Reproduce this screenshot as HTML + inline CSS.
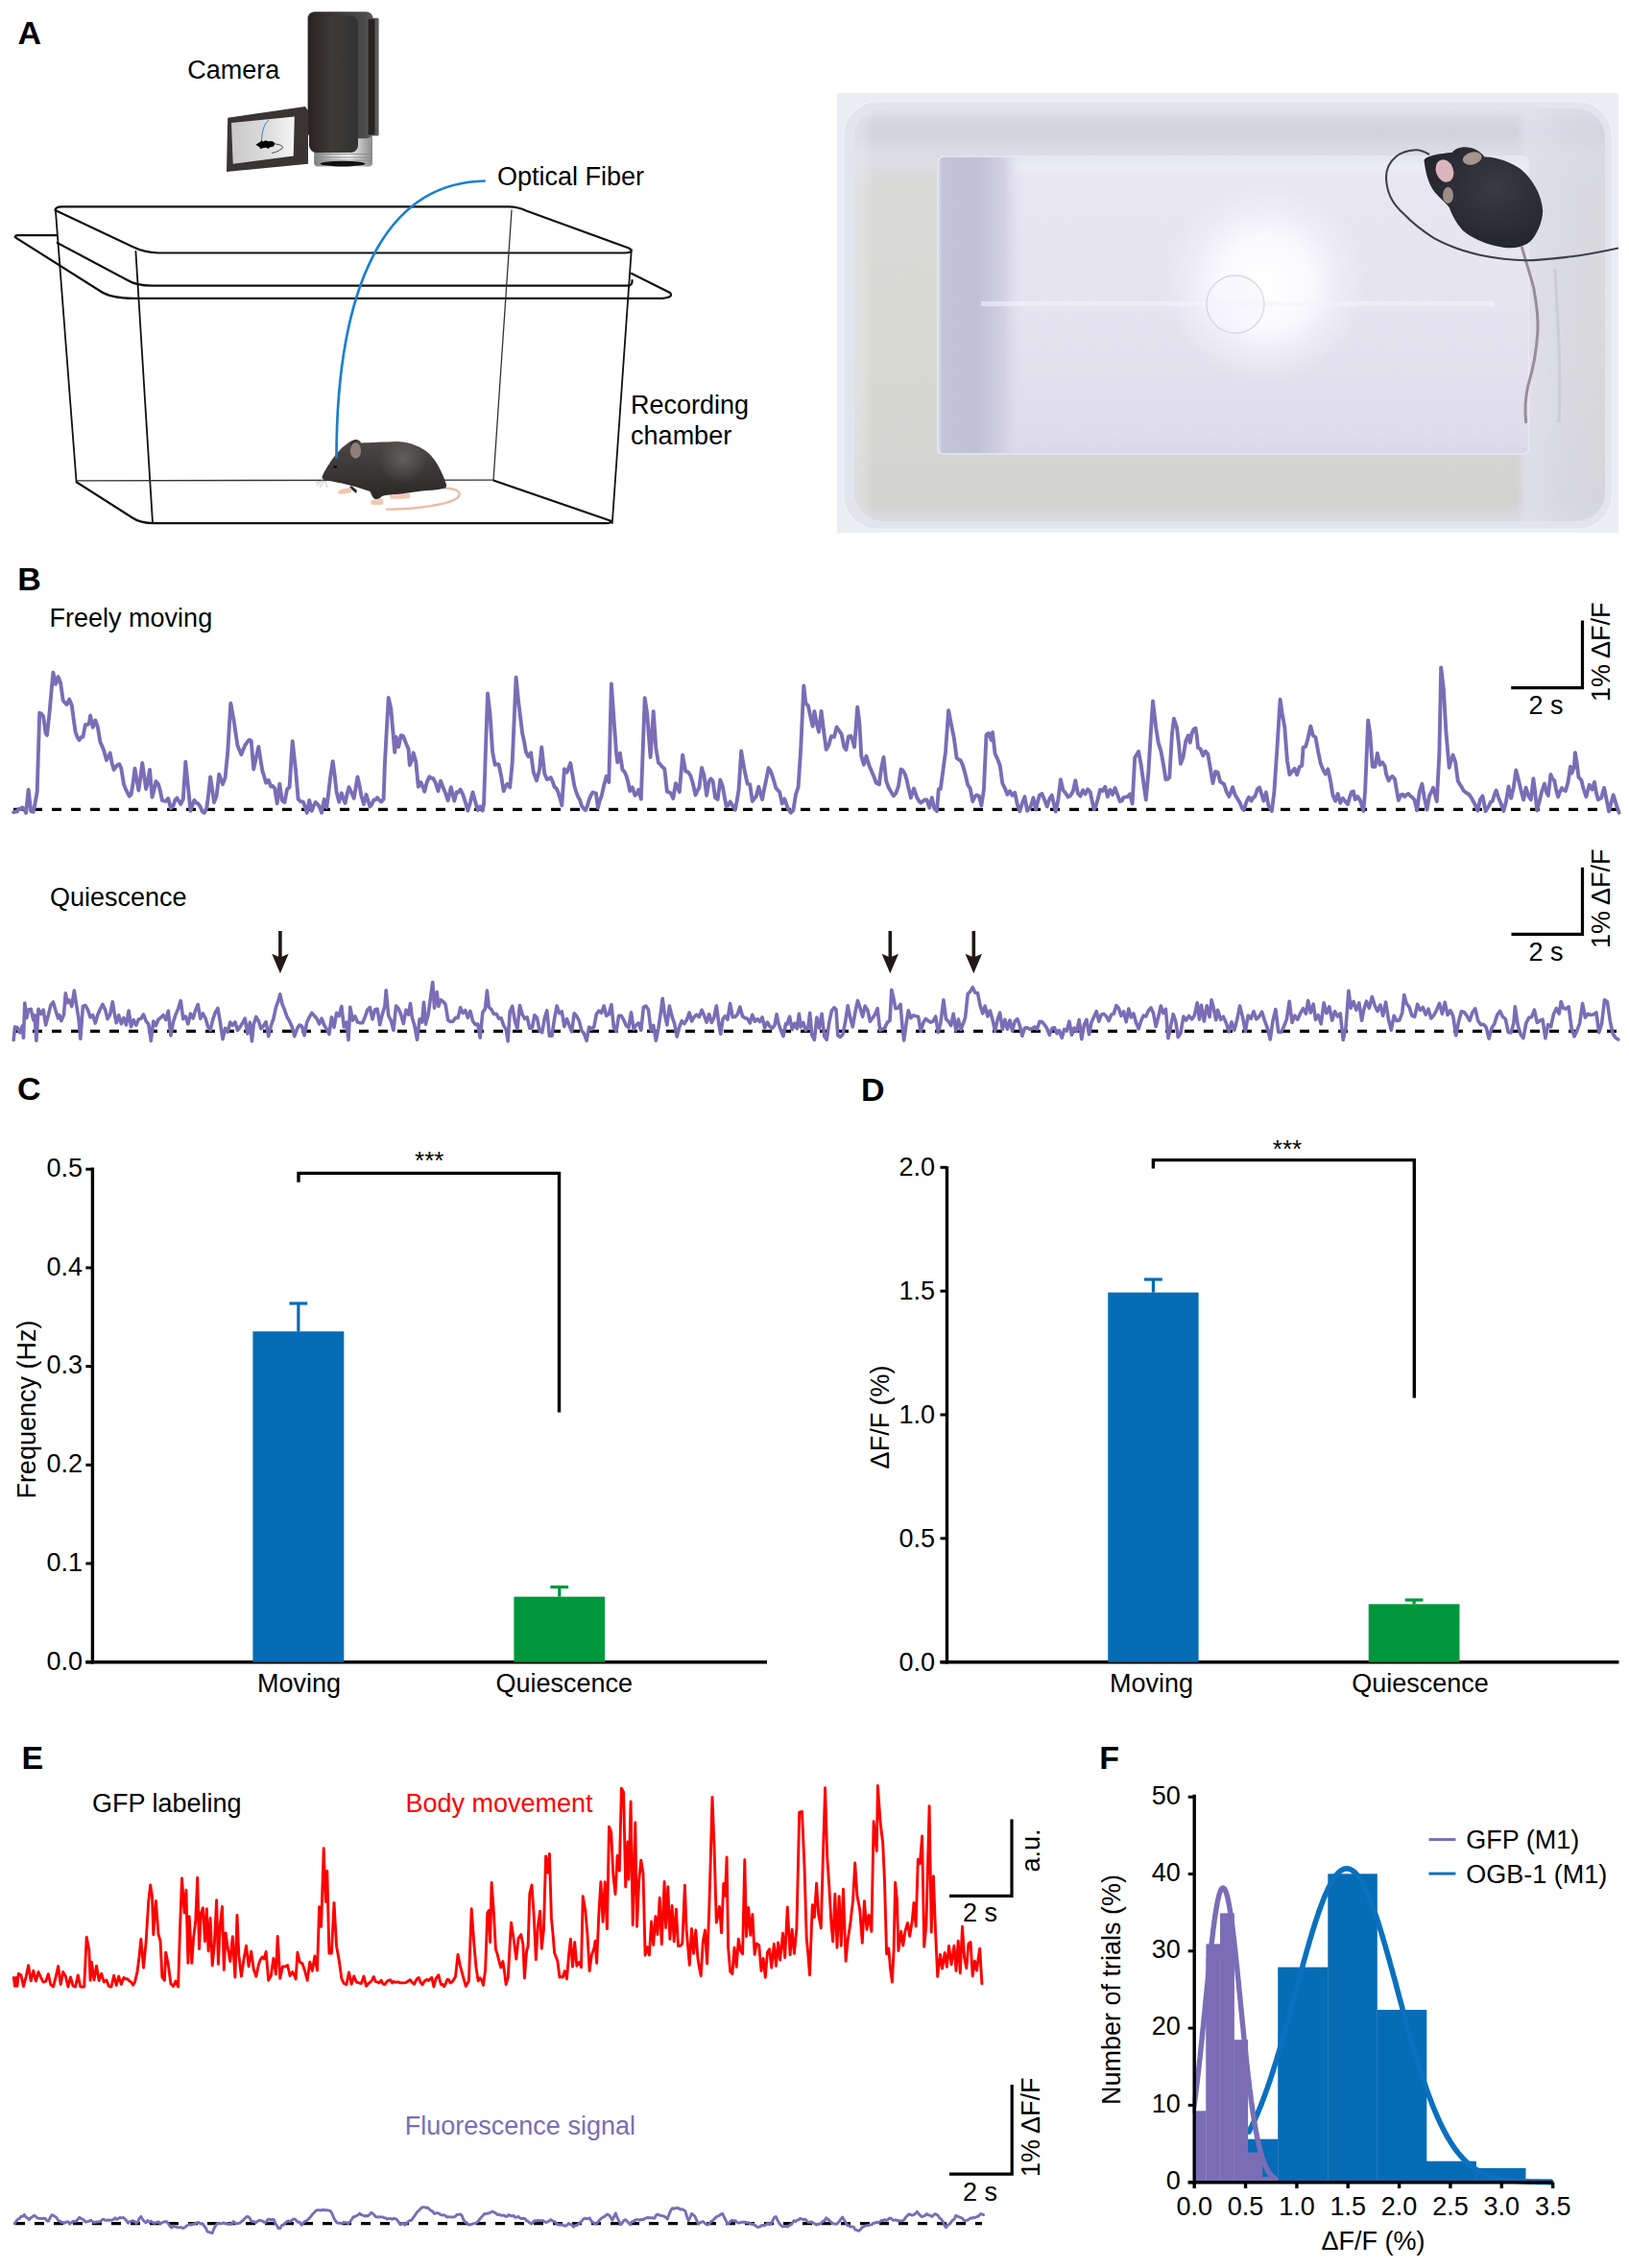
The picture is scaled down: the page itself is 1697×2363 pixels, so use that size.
<!DOCTYPE html>
<html><head><meta charset="utf-8"><title>Figure</title>
<style>html,body{margin:0;padding:0;background:#fff;} svg{display:block;} text{font-family:'Liberation Sans', Arial, sans-serif;}</style>
</head><body>
<svg width="1697" height="2363" viewBox="0 0 1697 2363">
<rect width="1697" height="2363" fill="#fff"/>
<text x="18.45" y="46.4" font-size="34" text-anchor="start" font-weight="bold" fill="#000" >A</text>
<text x="18.3" y="615.1" font-size="34" text-anchor="start" font-weight="bold" fill="#000" >B</text>
<text x="18.1" y="1146.2" font-size="34" text-anchor="start" font-weight="bold" fill="#000" >C</text>
<text x="897.0" y="1146.7" font-size="34" text-anchor="start" font-weight="bold" fill="#000" >D</text>
<text x="22.6" y="1842.9" font-size="34" text-anchor="start" font-weight="bold" fill="#000" >E</text>
<text x="1145.2" y="1842.9" font-size="34" text-anchor="start" font-weight="bold" fill="#000" >F</text>
<g fill="none" stroke="#111" stroke-width="2.2" stroke-linejoin="round" stroke-linecap="round">
<path d="M57.5,219 Q58,215.4 64,215.4 L530,215.4 Q540,215.6 548,219.5 L655,258.5 Q658.5,260.5 657,262.5 Q655,263.5 650,263.5 L165,263.5 Q150,263 138,257 L57.5,219"/>
<path d="M59.7,253 L133,292 Q142,297.6 158,297.6 L655,297.6 Q659,297 658.5,292"/>
<path d="M58.6,245.2 L18,245.2 Q14,245.8 17,248 L104,303 Q115,310.9 140,310.9 L690,310.9 Q702,310 698,305 L658,285"/>
</g>
<g fill="none" stroke="#111" stroke-width="1.8" stroke-linecap="round">
<path d="M57.9,219 L79.6,502.2"/>
<path d="M141.4,262 L159,545"/>
<path d="M657.8,260 L637.8,545"/>
</g>
<g fill="none" stroke="#333" stroke-width="1.3" stroke-linecap="round">
<path d="M533,219 L514,500.5"/>
<path d="M79.6,500.8 L514,500.1"/>
</g>
<g fill="none" stroke="#111" stroke-width="2.2" stroke-linejoin="round">
<path d="M79.6,502.2 L138,539.5 Q146,545 160,545.2 L632,545.2 Q637,545 636.5,542.8 L514,500.5"/>
</g>
<defs><linearGradient id="msG" x1="0" x2="0" y1="458" y2="520" gradientUnits="userSpaceOnUse"><stop offset="0" stop-color="#4c4848"/><stop offset="0.55" stop-color="#3a3636"/><stop offset="1" stop-color="#2a2727"/></linearGradient><radialGradient id="msH" cx="420" cy="478" r="26" gradientUnits="userSpaceOnUse"><stop offset="0" stop-color="#6a6666" stop-opacity="0.8"/><stop offset="1" stop-color="#6a6666" stop-opacity="0"/></radialGradient></defs>
<path d="M366,506 L372,511 L371,514 L364,508 Z" fill="#2e2a2a"/>
<path d="M352,512 C355,509.5 361,508.5 366,508.5 L366,513 C361,514.5 356,515 352.5,514.5 Z" fill="#f0c8b4"/>
<path d="M386,522 C390,519.5 395,519.5 399,519.6 L399.5,525.5 C395,526.5 390,526.5 386.5,525.5 Z" fill="#f0c8b4"/>
<path d="M406,515.5 C412,514 420,513.5 427,514 L427,519 C420,520 412,520 406.5,519.5 Z" fill="#f0c8b4"/>
<path d="M463,508.5 C474,509 481,512 478,517 C474,523 455,527 430,529.5 C418,530.5 410,530.8 403,530.6" fill="none" stroke="#ebbca4" stroke-width="2.3" stroke-linecap="round"/>
<path d="M335.5,497.5 C336,494 340,488 345,480 C350,473 356,466 362,462 C365,459.5 369,457.8 372.5,458.3 C375,459 376,460.5 376,461.5 C385,461 400,460.5 414,460 C428,460.5 440,466 448,473.5 C456,482 462,495 465,505 C465.5,507 464.5,508.5 462,509 C455,510.5 447,511 440,511.5 C432,512.5 425,513.5 418,514.5 C410,515 402,515.5 398,517 C396,519 394,520.5 391,520 C388,519 387,515 385.5,512 C378,509.5 370,507 362,505 C354,503 346,501.5 340,500.5 C337.5,500 335.5,499 335.5,497.5 Z" fill="url(#msG)"/>
<path d="M335.5,497.5 C336,494 340,488 345,480 C350,473 356,466 362,462 C365,459.5 369,457.8 372.5,458.3 C375,459 376,460.5 376,461.5 C385,461 400,460.5 414,460 C428,460.5 440,466 448,473.5 C456,482 462,495 465,505 C465.5,507 464.5,508.5 462,509 C455,510.5 447,511 440,511.5 C432,512.5 425,513.5 418,514.5 C410,515 402,515.5 398,517 C396,519 394,520.5 391,520 C388,519 387,515 385.5,512 C378,509.5 370,507 362,505 C354,503 346,501.5 340,500.5 C337.5,500 335.5,499 335.5,497.5 Z" fill="url(#msH)"/>
<ellipse cx="370.5" cy="469.5" rx="5.6" ry="8.2" fill="#8f7f78"/>
<path d="M365.5,464 C366,460 369,458.5 372,459" fill="none" stroke="#2a2626" stroke-width="1.5"/>
<ellipse cx="349.3" cy="486.4" rx="2" ry="1.3" fill="#111"/>
<path d="M337,500 L330,506 M338,501 L333,508 M339,501 L341,508 M336,500.5 L329,503" stroke="#888" stroke-width="0.5"/>
<path d="M350.5,477.6 C350.5,300 400,190 505.7,188.5" fill="none" stroke="#1a7fd0" stroke-width="2.7" stroke-linecap="butt"/>
<defs>
<linearGradient id="camBody" x1="0" x2="1" y1="0" y2="0"><stop offset="0" stop-color="#2a2322"/><stop offset="0.45" stop-color="#3d3a39"/><stop offset="1" stop-color="#333"/></linearGradient>
<linearGradient id="camRim" x1="0" x2="1" y1="0" y2="0"><stop offset="0" stop-color="#2b2524"/><stop offset="0.85" stop-color="#4a4a4a"/><stop offset="1" stop-color="#5a5a5a"/></linearGradient>
<linearGradient id="camLens" x1="0" x2="1" y1="0" y2="0"><stop offset="0" stop-color="#7a7a7a"/><stop offset="0.3" stop-color="#c8c8c8"/><stop offset="0.6" stop-color="#f4f4f4"/><stop offset="1" stop-color="#8a8a8a"/></linearGradient>
<linearGradient id="screen" x1="0" x2="1" y1="0" y2="0"><stop offset="0" stop-color="#c8c8c8"/><stop offset="0.55" stop-color="#dcdcdc"/><stop offset="1" stop-color="#f4f4f4"/></linearGradient>
</defs>
<rect x="327.2" y="140" width="60.8" height="33.5" rx="4" fill="url(#camLens)"/>
<path d="M328,160.5 L387,160.5 M328,164 L387,164 M328,167 L387,167" stroke="#8a8a8a" stroke-width="0.9"/>
<ellipse cx="357" cy="170.6" rx="23.5" ry="2.8" fill="#111"/>
<rect x="320.6" y="12.2" width="67.9" height="132" rx="7" fill="url(#camRim)"/>
<rect x="322" y="16.6" width="51" height="142.4" rx="7.5" fill="url(#camBody)"/>
<rect x="382.5" y="18.8" width="12.1" height="122.6" rx="1.5" fill="#5a5a5a"/>
<rect x="383.5" y="19.8" width="7" height="120.6" fill="#2a2222"/>
<path d="M237.2,122.7 L317.8,111 L321,115 L321,170.7 L236,179 Z" fill="#3a3434"/>
<path d="M241,128 L306.8,121.5 L305.7,162.4 L242.7,170.7 Z" fill="url(#screen)"/>
<path d="M280.2,125.4 C276,128 273,134 272.5,147" fill="none" stroke="#1a7fd0" stroke-width="0.9"/>
<path d="M266.5,150.8 L270.5,148.2 L272.5,146.4 L274,147.6 L277,146.2 L279,147.2 L283.5,147 L286.5,149.3 L285.2,152.4 L281,153.5 L279.5,155 L277.5,153.8 L273.5,154.3 L271.5,155.2 L270.5,153.4 Z" fill="#000"/>
<path d="M286.5,150 C292,150.5 298,153 292,156 C289,158 286,159 283,159.5" fill="none" stroke="#000" stroke-width="0.7"/>
<text x="195.3" y="82.2" font-size="27" text-anchor="start" font-weight="normal" fill="#000" >Camera</text>
<text x="518" y="193.4" font-size="27" text-anchor="start" font-weight="normal" fill="#000" >Optical Fiber</text>
<text x="657.0" y="430.8" font-size="27" text-anchor="start" font-weight="normal" fill="#000" >Recording</text>
<text x="657.1" y="462.7" font-size="27" text-anchor="start" font-weight="normal" fill="#000" >chamber</text>
<defs>
<clipPath id="phclip"><rect x="872" y="97" width="814" height="458"/></clipPath>
<linearGradient id="wallV" x1="0" x2="0" y1="113" y2="543" gradientUnits="userSpaceOnUse"><stop offset="0" stop-color="#e2e2ec"/><stop offset="0.02" stop-color="#dcdce8"/><stop offset="0.03" stop-color="#d6d6e2"/><stop offset="0.06" stop-color="#d2d2de"/><stop offset="0.08" stop-color="#d6d6e0"/><stop offset="0.11" stop-color="#dcdce6"/><stop offset="0.2" stop-color="#d9d9d6"/><stop offset="0.6" stop-color="#d9d9d3"/><stop offset="0.85" stop-color="#d4d4d0"/><stop offset="0.95" stop-color="#d2d2cf"/><stop offset="1" stop-color="#dadae2"/></linearGradient>
<linearGradient id="wallH" x1="890" x2="1672" y1="0" y2="0" gradientUnits="userSpaceOnUse"><stop offset="0" stop-color="#e8e8f2" stop-opacity="0.5"/><stop offset="0.025" stop-color="#ffffff" stop-opacity="0"/><stop offset="0.88" stop-color="#dcdcec" stop-opacity="0"/><stop offset="0.895" stop-color="#e2e2f0" stop-opacity="0.75"/><stop offset="0.95" stop-color="#dadae8" stop-opacity="0.6"/><stop offset="1" stop-color="#d8d8e6" stop-opacity="0.5"/></linearGradient>
<linearGradient id="floorV" x1="0" x2="0" y1="163" y2="473" gradientUnits="userSpaceOnUse"><stop offset="0" stop-color="#e4e4f2"/><stop offset="0.03" stop-color="#ececf6"/><stop offset="0.07" stop-color="#e8e6f3"/><stop offset="0.5" stop-color="#e6e4f1"/><stop offset="0.93" stop-color="#dfddeb"/><stop offset="1" stop-color="#dad8e8"/></linearGradient>
<linearGradient id="floorL" x1="977" x2="1065" y1="0" y2="0" gradientUnits="userSpaceOnUse"><stop offset="0" stop-color="#dedef0"/><stop offset="0.05" stop-color="#c6c4d8"/><stop offset="0.45" stop-color="#c1bfd4"/><stop offset="0.78" stop-color="#d2d0e2"/><stop offset="1" stop-color="#e0deee" stop-opacity="0"/></linearGradient>
<radialGradient id="hl" cx="1318" cy="295" r="105" gradientUnits="userSpaceOnUse"><stop offset="0" stop-color="#ffffff"/><stop offset="0.45" stop-color="#fcfcff" stop-opacity="0.9"/><stop offset="1" stop-color="#f4f3fa" stop-opacity="0"/></radialGradient>
<radialGradient id="mouseG" cx="0.6" cy="0.4" r="0.65"><stop offset="0" stop-color="#3a3a46"/><stop offset="1" stop-color="#24242c"/></radialGradient>
</defs>
<g clip-path="url(#phclip)">
<rect x="872" y="97" width="814" height="458" fill="#ececf5"/>
<rect x="878.5" y="105.5" width="801" height="446" rx="36" fill="#e4e4ee" stroke="#f0f0f8" stroke-width="1.5"/>
<rect x="890" y="113" width="782" height="430" rx="30" fill="url(#wallV)"/>
<rect x="890" y="113" width="782" height="430" rx="30" fill="url(#wallH)"/>
<rect x="977" y="163" width="615.5" height="310" rx="6" fill="url(#floorV)"/>
<rect x="977" y="163" width="615.5" height="310" rx="6" fill="url(#hl)"/>
<rect x="977" y="163" width="90" height="310" fill="url(#floorL)"/>
<rect x="977" y="163" width="615.5" height="310" rx="6" fill="none" stroke="#e8e8f6" stroke-width="1.6"/>
<rect x="1022" y="314" width="535" height="5" fill="#f4f3fa" opacity="0.6"/>
<circle cx="1287" cy="317" r="30" fill="#f6f5fb" fill-opacity="0.6" stroke="#d8d6e6" stroke-width="1.3"/>
<path d="M1620,280 C1622,330 1627,380 1624,440" fill="none" stroke="#c4c2d0" stroke-width="3" opacity="0.6"/>
<path d="M1585.6,258 C1588,268 1594,285 1597.8,300.7 C1601,318 1602.5,335 1601.9,345 C1601,362 1597,385 1591.7,402.1 C1589,415 1588.5,430 1589.7,439.7" fill="none" stroke="#9a8c98" stroke-width="3" stroke-linecap="round"/>
<path d="M1483.5,166.7 C1486,162 1500,160 1513,158.7 C1516,154 1525,152 1532,154 C1538,155 1543,159 1546.5,163.5 C1560,163 1575,170 1584,176 C1597,187 1606,203 1607.2,219.4 C1607,232 1600,246 1594.4,251.3 C1588,257 1578,259.5 1565.7,257.7 C1552,256 1535,249 1525.8,241.7 C1519,236 1513,225 1509.8,216.2 C1504,209 1497,204 1493,198 C1488,190 1485,180 1483.5,166.7 Z" fill="url(#mouseG)"/>
<ellipse cx="1505" cy="178" rx="9" ry="12" fill="#dcb4bc" transform="rotate(-20 1505 178)"/>
<ellipse cx="1533.7" cy="165" rx="10" ry="6.5" fill="#a4968a" transform="rotate(-15 1533.7 165)"/>
<ellipse cx="1508.5" cy="203.5" rx="5.5" ry="8.5" fill="#9a8e86"/>
<path d="M1489,161 C1484,158 1480,156 1474.7,156.3 C1465,157 1458,160 1454,163.5 C1446,170 1443,180 1444.4,190 C1446,205 1453,214 1462,222.6 C1472,233 1484,242 1493.8,248.1 C1510,257 1525,262 1541.7,265.7 C1558,269 1574,271 1589.6,271.3 C1607,271 1622,269 1637.5,267.3 C1655,265 1670,262 1686,258.5" fill="none" stroke="#3c4046" stroke-width="2.1"/>
</g>
<text x="51.6" y="652.9" font-size="27" text-anchor="start" font-weight="normal" fill="#000" >Freely moving</text>
<text x="52.0" y="943.7" font-size="27" text-anchor="start" font-weight="normal" fill="#000" >Quiescence</text>
<line x1="14" y1="843.3" x2="1684" y2="843.3" stroke="#000" stroke-width="3.3" stroke-dasharray="10 10" stroke-dashoffset="0"/>
<polyline points="14.2,846.3 16.0,845.4 17.8,845.6 19.6,842.7 21.4,843.1 23.2,841.2 25.1,842.8 27.1,847.0 29.6,822.8 32.2,845.3 34.8,845.9 36.7,836.3 38.7,825.0 41.2,742.8 43.2,743.7 45.1,746.3 47.7,764.3 49.0,765.9 51.6,742.1 53.5,720.4 55.4,700.6 58.0,712.8 60.6,705.1 63.2,712.0 65.7,730.0 67.7,732.1 69.6,734.1 72.2,728.5 74.8,734.8 76.7,749.6 78.6,762.6 80.6,768.0 82.5,771.1 84.4,768.1 86.4,767.8 88.9,755.0 90.9,755.3 92.8,753.8 94.1,745.5 96.7,757.8 99.3,750.4 101.8,757.5 104.4,773.1 106.3,777.4 108.3,782.2 110.9,792.0 112.8,788.9 114.7,784.6 116.7,795.5 118.6,802.0 120.5,799.3 122.5,796.8 124.4,796.2 126.3,800.8 128.9,816.9 130.8,821.8 132.8,825.9 134.7,829.6 136.6,827.9 138.6,815.9 140.5,800.6 142.4,812.4 144.4,823.5 146.3,810.5 148.2,794.9 150.2,808.4 152.1,822.0 154.0,814.9 156.0,801.9 158.5,830.5 160.5,823.2 162.4,814.1 165.0,817.0 166.9,824.0 168.9,833.8 170.8,834.3 172.7,834.8 175.3,831.9 177.9,842.1 180.5,839.5 182.4,833.6 184.3,831.4 186.3,834.6 188.2,837.9 190.8,832.7 193.3,793.8 195.9,819.2 198.5,844.8 200.4,838.9 202.4,833.7 204.3,836.5 206.2,837.2 208.8,840.7 210.8,845.7 212.7,847.0 215.3,841.9 217.2,827.4 219.1,809.4 221.1,822.5 223.0,836.0 225.6,829.3 228.2,806.6 230.1,811.9 232.0,817.2 234.6,810.1 237.2,783.8 240.3,732.6 243.6,750.5 245.6,764.5 247.5,776.8 249.4,781.5 251.4,786.1 253.3,781.0 255.2,776.7 257.8,772.8 259.7,770.9 261.7,771.7 264.2,801.5 266.8,789.1 269.4,778.0 271.3,790.6 273.3,802.8 275.2,808.9 277.1,815.7 279.7,812.7 282.3,819.5 284.2,819.0 286.2,821.3 288.7,837.1 291.3,816.6 293.9,834.2 296.5,836.0 299.0,822.5 301.6,820.0 304.7,772.1 308.1,802.8 310.6,832.5 313.2,835.1 315.8,835.4 317.7,840.4 319.7,847.0 322.2,833.8 324.8,844.9 326.8,839.5 328.7,835.8 330.6,837.7 332.6,840.2 335.1,846.7 337.7,832.8 340.3,841.3 342.2,826.2 344.2,809.2 346.7,793.1 348.7,808.3 350.6,825.0 353.2,835.5 355.8,826.3 357.7,832.2 359.6,836.8 361.6,827.2 363.5,820.2 366.1,825.7 368.7,831.8 370.6,820.5 372.5,809.4 374.5,818.7 376.4,829.2 379.0,837.9 381.5,827.8 383.5,834.3 385.4,840.5 387.3,838.1 389.3,833.5 391.2,833.3 393.1,831.1 395.1,833.6 397.0,835.4 399.6,832.6 400.9,795.4 402.8,760.3 404.7,727.0 407.3,738.5 409.3,761.4 411.2,783.8 412.6,767.6 415.2,778.0 417.7,766.2 419.8,766.6 422.9,774.3 425.5,780.2 426.8,797.2 429.3,791.5 430.6,784.3 433.2,793.3 435.8,819.7 438.4,815.1 440.3,819.4 442.2,824.7 444.8,814.7 447.4,809.2 449.3,810.7 451.2,810.9 453.8,815.9 456.4,824.2 459.0,813.7 461.6,820.5 464.1,826.5 466.7,834.0 469.8,820.2 473.2,834.4 475.7,825.2 477.7,825.4 479.6,822.6 482.2,827.7 484.8,835.8 487.3,844.7 489.9,836.0 492.5,825.5 495.1,834.9 497.7,844.3 500.2,840.2 502.8,844.6 504.1,836.7 505.9,782.0 508.0,722.4 510.5,743.9 513.1,783.5 515.7,796.8 517.6,796.1 519.6,796.5 522.1,808.2 524.7,824.3 526.7,819.3 528.6,816.7 531.2,820.4 533.7,794.5 535.7,748.7 537.6,705.7 540.2,731.8 542.1,747.0 544.1,763.8 546.0,772.2 547.9,783.5 550.5,788.4 553.1,784.4 555.7,804.3 559.0,813.2 562.1,801.6 564.2,778.4 567.3,806.1 569.8,812.1 571.8,811.5 573.7,810.1 575.6,814.2 577.6,820.1 579.5,821.2 581.4,825.4 583.4,831.6 585.3,839.1 587.9,801.2 590.5,804.7 592.4,800.0 594.3,795.0 596.3,806.7 598.2,818.3 600.1,824.6 602.1,830.0 604.0,833.2 605.9,839.3 607.9,842.3 609.8,844.1 611.7,840.0 613.7,833.3 615.6,828.6 617.5,825.5 620.9,826.5 622.9,841.7 624.7,834.2 626.6,829.6 629.1,818.5 631.7,808.8 634.3,814.9 636.9,712.5 639.4,747.6 642.0,783.9 643.3,794.3 645.9,784.7 648.5,802.3 650.4,803.8 652.3,807.9 654.3,814.8 656.2,824.1 658.8,820.3 661.4,828.8 663.3,827.2 665.2,822.7 667.8,832.6 669.1,798.2 671.7,727.2 674.2,743.6 677.6,789.1 680.7,741.1 683.3,779.0 685.8,794.5 687.8,796.4 689.7,798.8 692.3,800.9 694.9,824.7 696.8,825.4 698.7,826.3 701.3,831.9 703.9,816.1 705.8,819.7 707.8,825.1 711.1,786.7 714.2,803.7 716.8,804.4 719.4,808.2 721.9,816.5 724.5,828.3 726.4,824.1 728.4,820.5 731.0,799.9 733.5,808.3 736.1,828.8 738.7,813.7 740.6,811.4 742.6,813.9 745.1,831.1 747.7,832.9 750.3,812.5 752.9,819.9 754.8,830.6 756.7,840.0 758.7,838.9 760.6,835.3 763.2,839.0 765.8,843.9 767.7,834.4 769.6,822.6 772.2,782.5 774.1,794.2 776.1,805.0 778.7,816.9 781.2,817.1 783.8,834.8 785.7,832.2 787.7,829.9 790.3,819.7 792.2,826.8 794.1,832.9 796.1,822.1 798.0,813.3 800.6,800.1 802.5,802.8 804.4,807.7 806.4,814.4 808.3,821.0 810.2,823.1 812.2,825.3 814.7,837.2 817.3,832.4 819.3,838.2 821.2,843.2 823.9,846.7 826.4,844.1 829.0,827.8 831.6,819.9 834.2,780.3 837.3,714.5 839.3,732.6 841.9,735.3 844.5,747.6 846.6,756.8 848.4,741.2 850.9,754.5 853.0,762.6 855.6,740.9 858.2,762.2 860.7,780.9 863.3,776.5 865.9,767.2 869.0,767.9 871.6,757.5 874.1,761.1 876.7,765.1 879.3,778.2 881.4,781.2 883.9,767.3 886.5,766.8 888.3,771.7 890.1,778.4 893.2,736.6 895.3,752.6 897.3,787.6 899.9,796.7 902.5,787.8 905.1,796.6 907.7,803.1 910.2,808.8 912.8,815.8 915.9,817.3 918.0,801.0 920.5,789.0 923.1,813.2 925.7,820.5 928.3,825.1 930.9,829.2 933.4,826.3 936.0,818.9 938.6,801.5 940.5,802.7 942.5,805.8 944.4,811.8 946.3,820.4 948.9,831.2 952.0,821.5 955.3,831.1 957.3,834.5 959.2,836.4 961.8,834.6 963.7,833.1 965.7,833.5 968.2,841.6 970.8,831.1 973.4,842.6 976.0,845.1 977.8,822.2 979.8,822.1 982.4,802.8 985.0,783.5 988.1,740.2 991.4,757.0 994.0,769.9 996.6,789.7 998.5,791.3 1000.5,792.0 1003.0,797.4 1005.6,806.6 1008.2,817.7 1010.8,821.8 1013.3,835.0 1015.3,830.4 1017.2,828.4 1019.8,829.4 1022.4,839.2 1024.9,822.5 1027.5,765.4 1030.1,764.0 1032.7,771.1 1034.0,763.0 1036.6,785.4 1039.1,790.6 1041.7,797.5 1044.3,816.2 1046.9,821.3 1049.4,827.7 1052.0,824.3 1054.6,828.7 1057.2,825.7 1059.8,838.1 1062.3,845.3 1064.9,836.9 1067.5,830.1 1070.1,844.8 1072.0,842.9 1073.9,839.8 1076.5,831.2 1079.1,843.6 1081.0,835.3 1083.0,828.4 1085.5,827.1 1088.1,833.2 1090.7,840.3 1093.3,832.4 1095.8,828.6 1097.8,837.4 1099.7,845.6 1102.3,833.5 1104.9,812.2 1107.4,823.1 1110.0,826.3 1112.6,830.4 1115.2,828.8 1117.8,824.4 1120.3,813.2 1122.9,826.6 1125.5,829.5 1128.1,823.3 1130.6,827.3 1133.2,822.4 1135.8,825.4 1137.7,834.8 1139.7,843.3 1141.6,839.6 1143.5,833.2 1146.1,822.8 1148.7,823.9 1151.3,819.9 1153.8,830.1 1156.4,822.9 1159.0,827.9 1161.6,821.0 1164.2,828.2 1166.7,835.0 1168.7,834.3 1170.6,830.8 1172.5,830.4 1174.5,830.1 1177.1,827.4 1179.6,837.3 1182.2,789.5 1184.1,786.2 1186.1,783.0 1188.7,796.8 1191.2,815.1 1193.8,833.3 1196.4,804.5 1199.0,760.6 1201.0,730.5 1204.1,757.1 1206.7,773.9 1209.3,782.1 1211.9,796.1 1214.4,812.1 1216.4,811.8 1218.3,810.0 1220.9,765.3 1222.9,748.7 1226.0,758.1 1228.0,775.6 1229.9,795.9 1232.6,788.8 1235.2,772.3 1237.7,766.4 1239.8,773.7 1241.6,764.2 1243.4,760.0 1245.5,758.7 1246.8,766.9 1248.0,779.0 1250.6,780.2 1253.2,787.2 1255.8,782.7 1258.4,786.0 1260.9,800.7 1263.5,816.1 1266.1,803.9 1268.7,804.9 1271.2,814.5 1273.2,815.8 1275.1,816.9 1277.7,824.9 1280.3,829.9 1282.2,825.4 1284.1,820.2 1286.7,828.3 1289.3,832.4 1291.9,836.8 1293.8,841.9 1295.7,844.1 1298.3,835.9 1300.9,830.5 1303.5,834.5 1305.4,831.0 1307.3,830.0 1309.9,822.2 1312.0,820.4 1313.8,826.0 1316.4,834.4 1318.9,825.5 1321.5,839.5 1324.9,845.1 1327.4,825.0 1330.5,778.6 1333.6,728.6 1335.7,743.3 1338.3,757.5 1340.9,792.2 1343.4,807.0 1346.0,803.7 1348.6,800.7 1351.2,807.3 1353.7,799.0 1356.3,797.7 1357.6,778.6 1360.2,777.8 1362.8,768.4 1365.3,756.6 1367.9,766.4 1370.5,768.1 1373.1,782.7 1375.7,795.4 1378.2,801.7 1380.8,806.5 1383.4,801.4 1386.0,813.5 1388.5,828.6 1391.1,834.5 1393.7,827.0 1396.3,836.7 1398.9,831.8 1401.4,834.9 1404.0,837.9 1405.9,831.2 1407.9,825.1 1409.9,824.5 1411.7,832.9 1414.3,829.9 1416.9,833.8 1420.3,845.0 1422.1,824.3 1425.2,750.5 1427.2,764.0 1429.8,798.8 1432.4,798.9 1434.9,784.8 1437.5,796.8 1440.1,794.2 1442.7,798.2 1444.0,806.3 1446.6,813.3 1448.5,810.5 1450.4,808.8 1453.0,811.7 1454.9,823.0 1456.9,833.8 1459.4,828.2 1461.4,827.7 1463.3,829.9 1465.2,828.0 1467.2,826.9 1469.1,829.1 1471.0,830.5 1473.6,833.6 1476.2,844.3 1478.8,824.5 1481.4,816.8 1483.9,831.6 1486.5,843.7 1489.1,828.9 1491.0,825.3 1493.0,820.7 1494.9,827.8 1496.8,835.0 1499.4,784.8 1501.2,695.4 1503.8,717.2 1506.4,762.5 1509.7,799.8 1511.6,792.4 1513.6,786.6 1516.2,794.1 1518.7,813.5 1520.7,817.0 1522.6,819.9 1524.5,823.6 1526.5,825.3 1528.4,826.5 1530.3,827.7 1532.9,831.4 1534.8,835.0 1536.8,838.6 1539.4,844.7 1541.9,833.4 1544.5,829.4 1547.6,845.2 1551.0,839.8 1552.9,835.5 1554.8,834.7 1556.8,827.7 1558.7,823.5 1561.3,831.8 1563.8,837.7 1566.4,845.1 1569.0,834.9 1571.6,819.4 1574.2,831.6 1576.7,821.0 1579.3,802.4 1581.9,812.5 1584.5,823.5 1587.1,833.3 1589.6,820.6 1592.2,829.1 1594.8,833.2 1597.4,811.2 1599.3,826.3 1601.2,844.6 1603.8,834.3 1606.4,823.8 1609.0,816.6 1610.9,825.2 1612.8,828.9 1615.4,806.9 1617.3,811.5 1619.3,813.2 1621.2,823.5 1623.1,830.2 1625.1,824.9 1627.0,821.1 1628.9,823.0 1630.9,824.1 1633.5,814.9 1636.0,798.8 1637.3,805.6 1639.9,799.0 1640.9,784.2 1642.6,794.1 1644.5,809.8 1647.5,813.1 1649.1,820.3 1652.4,830.1 1655.7,817.7 1658.7,822.6 1661.0,814.9 1662.9,826.1 1664.9,833.1 1668.2,831.0 1671.1,820.9 1673.4,832.2 1676.1,845.4 1678.4,836.5 1680.7,828.3 1682.6,834.6 1684.6,840.9 1686.6,846.7" fill="none" stroke="#7a6db6" stroke-width="3.9" stroke-linejoin="round" stroke-linecap="round" />
<path d="M1574.2,716.6 L1648.5,716.6 L1648.5,646.5" fill="none" stroke="#000" stroke-width="3.2" stroke-linejoin="miter"/>
<text transform="translate(1676.9,731) rotate(-90)" font-size="27">1% ΔF/F</text>
<text x="1592.6" y="744.3" font-size="27" text-anchor="start" font-weight="normal" fill="#000" >2 s</text>
<line x1="14" y1="1074.3" x2="1684" y2="1074.3" stroke="#000" stroke-width="3.3" stroke-dasharray="10 10" stroke-dashoffset="0"/>
<polyline points="14.2,1083.5 15.5,1069.9 18.0,1070.4 20.6,1076.0 23.2,1069.1 24.5,1081.3 25.8,1045.1 27.8,1060.6 29.6,1051.9 32.2,1051.4 34.8,1062.9 36.1,1057.8 37.9,1084.3 40.0,1051.4 42.5,1056.5 45.1,1052.2 47.7,1067.9 50.3,1057.9 52.8,1047.3 55.4,1044.0 58.0,1053.0 60.6,1060.9 61.9,1057.6 63.9,1063.6 66.5,1057.4 68.3,1034.8 70.1,1044.7 72.2,1041.9 74.8,1048.6 77.3,1032.1 79.9,1048.8 82.0,1061.9 83.8,1082.3 86.4,1048.4 88.9,1047.5 91.5,1052.1 94.1,1059.9 96.7,1057.7 99.3,1066.1 101.8,1057.3 104.4,1051.3 107.0,1046.4 109.6,1051.9 112.1,1061.7 114.7,1057.0 117.3,1043.9 119.1,1055.0 121.2,1065.8 123.7,1057.8 126.3,1066.7 128.9,1060.5 131.5,1067.9 134.1,1053.0 136.6,1069.7 139.2,1062.6 141.8,1068.2 144.4,1062.0 146.9,1061.2 149.5,1057.0 152.1,1063.8 154.7,1067.1 157.3,1084.4 159.8,1064.0 162.4,1068.5 165.0,1062.2 167.6,1060.1 170.1,1057.7 172.7,1062.5 175.3,1053.3 177.9,1078.9 180.5,1064.7 183.0,1057.1 185.6,1051.1 188.2,1042.6 190.8,1061.6 193.3,1059.0 195.9,1066.9 198.5,1056.2 201.1,1061.0 203.7,1052.4 206.2,1046.5 208.8,1061.2 211.4,1056.0 214.0,1060.8 216.6,1069.5 219.1,1073.4 221.7,1062.4 224.3,1054.8 226.9,1050.3 229.4,1065.1 232.0,1082.6 234.6,1071.3 237.2,1075.2 239.8,1065.1 242.3,1068.3 244.9,1064.8 247.5,1073.5 250.1,1069.9 252.6,1066.0 255.2,1061.1 257.8,1077.0 260.4,1065.2 262.4,1084.7 264.2,1067.7 266.8,1059.4 269.4,1064.0 272.0,1071.9 274.6,1068.7 277.1,1064.7 279.7,1079.7 282.3,1068.8 284.9,1061.4 287.4,1049.6 290.0,1042.4 291.8,1035.9 293.9,1045.9 296.5,1052.3 299.0,1059.5 301.6,1063.9 304.2,1069.8 306.8,1079.7 309.4,1072.0 311.9,1068.0 314.5,1069.2 317.1,1078.7 319.7,1065.2 322.2,1059.8 324.8,1055.4 327.4,1058.3 330.0,1061.2 332.6,1066.8 335.1,1061.1 337.7,1068.0 340.3,1072.1 342.9,1077.5 345.4,1059.7 348.0,1070.3 350.6,1055.4 353.2,1058.6 355.8,1048.5 358.3,1069.9 360.9,1065.1 363.0,1083.5 364.8,1049.4 367.4,1063.2 369.9,1058.9 372.5,1065.0 375.1,1065.7 377.7,1065.8 380.3,1059.4 382.8,1052.2 385.4,1049.6 388.0,1062.0 390.6,1052.0 393.1,1051.3 395.7,1067.7 398.3,1056.9 400.9,1048.1 402.2,1031.7 404.7,1058.3 407.3,1063.4 409.9,1073.4 412.6,1048.0 415.2,1051.0 417.7,1057.0 420.3,1066.4 422.9,1052.3 425.5,1057.1 427.5,1045.5 429.3,1060.1 431.9,1068.8 434.5,1083.2 437.1,1061.9 439.6,1065.1 441.5,1044.3 443.5,1067.1 446.1,1057.0 448.7,1038.2 450.7,1023.2 452.5,1050.2 455.1,1033.5 456.9,1048.5 459.0,1041.8 461.6,1043.5 464.1,1046.5 466.7,1062.7 469.3,1064.4 471.9,1064.2 474.4,1060.4 477.0,1060.6 479.6,1049.8 482.2,1055.6 484.8,1052.7 487.3,1060.3 489.9,1053.4 492.5,1063.7 495.1,1067.6 497.7,1067.1 500.2,1081.2 502.8,1054.6 505.4,1051.2 507.4,1032.1 509.3,1049.2 511.8,1051.6 514.4,1056.5 517.0,1056.2 519.6,1061.2 522.1,1060.7 524.7,1068.6 527.3,1072.9 529.1,1084.8 531.2,1053.7 533.7,1048.4 536.3,1063.4 538.9,1071.8 541.5,1047.5 544.1,1056.8 546.6,1061.5 549.2,1059.8 551.8,1071.4 554.4,1070.7 556.9,1057.8 559.5,1060.5 562.1,1074.1 564.7,1075.7 567.3,1061.0 569.8,1052.9 572.4,1079.3 575.0,1079.2 577.6,1061.2 580.1,1048.1 582.7,1055.7 585.3,1054.0 587.9,1069.4 590.5,1061.5 593.0,1068.3 595.6,1074.9 598.2,1055.8 600.8,1058.7 603.3,1063.6 605.9,1073.9 608.5,1077.0 611.1,1084.3 613.7,1070.0 616.2,1072.3 618.8,1069.8 621.4,1056.3 624.0,1053.2 626.6,1055.4 629.1,1048.0 631.7,1058.3 634.3,1056.7 636.9,1046.8 639.4,1070.5 642.0,1074.5 644.6,1058.3 647.2,1058.2 649.8,1062.8 652.3,1068.4 654.9,1070.8 657.5,1054.7 660.1,1072.2 662.6,1068.0 665.2,1065.8 667.8,1073.4 670.4,1049.4 673.0,1048.2 675.5,1052.1 678.1,1073.9 680.7,1068.3 683.3,1084.2 685.8,1072.0 688.4,1054.2 690.2,1040.4 692.3,1056.3 694.9,1067.9 697.4,1048.1 700.0,1058.8 702.6,1066.4 705.2,1080.1 707.8,1069.7 710.3,1063.6 712.9,1066.6 715.5,1062.6 718.1,1055.0 720.6,1064.0 723.2,1059.4 725.8,1057.2 728.4,1059.6 731.0,1052.3 733.5,1058.0 736.1,1065.1 738.7,1056.6 741.3,1065.4 743.8,1060.2 746.4,1048.0 749.0,1068.1 750.8,1077.3 752.9,1062.1 755.4,1058.6 758.0,1062.3 760.6,1045.6 763.2,1059.6 765.8,1059.5 768.3,1056.8 770.9,1049.2 773.5,1058.8 776.1,1060.8 778.7,1061.3 781.2,1066.0 783.8,1057.3 786.4,1064.2 789.0,1061.7 791.5,1064.7 794.1,1059.9 796.7,1070.8 799.3,1065.0 801.9,1069.3 804.4,1071.4 807.0,1068.1 809.1,1056.8 810.9,1066.2 813.5,1073.6 816.0,1079.6 818.6,1066.6 820.0,1067.2 822.6,1059.2 825.2,1072.7 827.7,1066.3 830.3,1071.7 832.4,1056.2 834.2,1069.9 836.8,1065.4 839.3,1073.5 841.9,1070.1 843.7,1055.3 845.8,1078.3 848.4,1083.3 850.9,1060.0 853.5,1071.1 856.1,1056.2 858.7,1079.7 861.2,1083.2 863.8,1065.2 866.4,1053.2 869.0,1050.0 871.0,1051.7 872.8,1078.9 875.4,1080.5 878.0,1077.7 880.6,1064.7 883.2,1047.8 885.7,1060.3 888.3,1069.8 890.9,1054.6 893.5,1042.6 896.1,1050.3 898.6,1059.3 901.2,1048.2 903.8,1052.4 906.4,1064.2 908.9,1060.8 911.5,1056.9 914.1,1050.6 916.7,1073.3 919.3,1072.3 921.8,1070.8 924.4,1065.3 927.0,1063.3 928.8,1031.2 930.9,1040.3 932.9,1050.8 935.5,1050.3 938.1,1046.4 939.9,1068.6 941.7,1084.0 944.3,1065.1 946.3,1052.9 948.9,1060.6 951.5,1057.9 954.1,1058.7 956.6,1059.3 959.2,1074.4 961.8,1065.4 964.4,1061.5 966.9,1063.5 969.5,1065.1 972.1,1064.0 974.7,1059.0 977.3,1075.6 979.8,1066.4 982.9,1041.8 985.5,1061.7 988.1,1064.3 990.7,1068.5 993.2,1056.2 995.8,1073.7 998.4,1062.1 1001.0,1072.7 1003.6,1065.9 1005.6,1060.0 1008.2,1035.5 1010.8,1032.9 1013.3,1028.7 1015.9,1034.3 1018.5,1034.6 1021.1,1047.8 1023.7,1055.9 1026.2,1048.1 1028.8,1058.9 1031.4,1053.0 1034.0,1062.4 1036.6,1074.5 1039.1,1062.5 1041.7,1055.2 1044.3,1072.5 1046.9,1062.3 1049.4,1072.3 1052.0,1063.0 1054.6,1074.2 1057.2,1064.0 1059.8,1061.6 1062.3,1068.4 1064.9,1079.4 1067.5,1071.0 1070.1,1070.8 1072.6,1072.3 1075.2,1071.8 1077.8,1069.9 1080.4,1072.0 1083.0,1064.3 1085.5,1064.7 1088.1,1067.6 1090.7,1071.6 1093.3,1078.4 1095.8,1071.5 1098.4,1070.7 1101.0,1076.8 1103.6,1073.6 1106.2,1081.4 1108.7,1072.4 1111.3,1074.1 1113.9,1064.2 1116.5,1078.3 1119.0,1071.0 1121.6,1074.5 1124.2,1062.6 1126.8,1082.6 1129.4,1067.7 1131.9,1062.3 1134.5,1077.8 1137.1,1065.0 1139.7,1059.3 1142.2,1053.6 1144.8,1064.2 1147.4,1056.9 1150.0,1056.4 1152.6,1059.1 1155.1,1063.5 1157.7,1057.2 1160.3,1056.1 1162.9,1047.6 1165.4,1050.5 1168.0,1058.4 1170.6,1053.9 1173.2,1064.6 1175.8,1051.1 1178.3,1060.0 1180.9,1055.9 1183.5,1065.5 1186.1,1071.9 1188.7,1063.8 1191.2,1058.1 1193.8,1059.0 1196.4,1052.9 1199.0,1050.0 1201.5,1055.5 1204.1,1069.5 1206.7,1059.5 1209.3,1048.1 1211.9,1055.6 1214.4,1051.3 1217.0,1081.8 1219.6,1069.3 1222.2,1056.7 1224.7,1063.9 1227.3,1080.6 1229.9,1076.4 1232.9,1059.0 1235.7,1063.1 1238.6,1058.5 1241.5,1061.9 1244.3,1058.1 1247.2,1044.9 1249.5,1062.1 1251.5,1047.3 1254.4,1064.0 1257.2,1047.7 1260.1,1059.6 1262.1,1041.9 1264.4,1050.9 1266.7,1062.6 1268.7,1052.4 1271.6,1062.3 1274.4,1059.2 1277.3,1065.8 1280.2,1075.0 1283.0,1064.8 1285.9,1073.2 1288.8,1061.9 1291.6,1048.0 1294.5,1059.6 1297.4,1074.6 1300.2,1058.0 1303.1,1061.3 1306.0,1053.8 1308.8,1061.9 1311.7,1059.1 1314.6,1054.2 1317.4,1063.1 1320.3,1071.1 1323.2,1083.0 1326.0,1063.5 1328.9,1051.7 1331.8,1075.2 1334.6,1075.5 1337.5,1069.5 1340.4,1061.9 1343.2,1043.2 1346.1,1065.4 1349.0,1058.2 1351.8,1062.2 1354.7,1055.5 1357.6,1050.7 1360.4,1056.2 1362.7,1042.6 1365.3,1055.1 1368.2,1046.2 1370.5,1062.4 1373.3,1057.7 1376.2,1066.8 1379.1,1044.9 1381.9,1055.7 1384.8,1048.8 1387.7,1063.1 1390.6,1053.8 1393.4,1059.0 1396.3,1056.0 1399.2,1083.5 1402.0,1070.7 1404.9,1032.3 1407.2,1050.2 1410.0,1043.5 1412.9,1052.3 1415.8,1044.9 1418.6,1063.3 1420.7,1052.1 1423.5,1043.2 1426.4,1050.2 1429.3,1038.6 1432.1,1047.4 1435.0,1053.6 1437.9,1047.0 1440.7,1058.2 1443.6,1044.2 1446.5,1062.3 1449.3,1073.2 1452.2,1058.3 1455.1,1063.6 1457.9,1063.0 1460.8,1054.8 1462.8,1036.5 1465.1,1045.3 1468.0,1049.0 1470.8,1058.0 1473.7,1059.3 1476.6,1046.3 1479.4,1052.5 1482.3,1049.5 1485.2,1057.2 1488.0,1051.2 1490.9,1061.0 1493.8,1057.6 1496.6,1052.3 1499.5,1045.4 1502.4,1056.3 1505.2,1044.3 1508.1,1057.5 1511.0,1052.8 1513.8,1058.7 1516.7,1078.8 1519.6,1064.2 1522.4,1053.8 1525.3,1054.7 1528.2,1058.5 1531.0,1063.4 1533.9,1054.8 1536.8,1050.8 1539.6,1063.2 1542.5,1067.6 1545.4,1067.3 1548.2,1070.2 1551.1,1082.1 1554.0,1071.0 1556.8,1066.6 1559.7,1057.4 1562.6,1053.5 1565.4,1059.3 1568.3,1061.6 1571.2,1075.4 1574.0,1075.9 1576.9,1066.1 1578.3,1048.9 1581.2,1068.0 1584.1,1077.8 1586.9,1081.6 1589.8,1066.1 1592.7,1060.3 1595.5,1059.7 1598.4,1052.2 1601.3,1065.4 1604.1,1063.5 1607.0,1062.2 1609.9,1081.8 1612.7,1067.5 1615.6,1069.9 1618.5,1056.5 1621.3,1050.7 1624.2,1056.1 1626.2,1043.5 1628.5,1050.2 1631.4,1051.2 1634.2,1048.9 1637.1,1071.1 1640.0,1079.9 1642.8,1073.9 1645.7,1066.0 1648.6,1045.6 1651.4,1060.1 1654.3,1056.4 1657.2,1057.5 1660.0,1056.9 1662.9,1054.9 1665.8,1075.8 1668.6,1066.5 1671.5,1041.7 1674.4,1043.7 1677.2,1063.1 1680.1,1076.9 1683.0,1081.3 1685.8,1083.1" fill="none" stroke="#7a6db6" stroke-width="3.6" stroke-linejoin="round" stroke-linecap="round" />
<path d="M1574.5,973.4 L1648.5,973.4 L1648.5,903.8" fill="none" stroke="#000" stroke-width="3.2" stroke-linejoin="miter"/>
<text transform="translate(1676.9,988) rotate(-90)" font-size="27">1% ΔF/F</text>
<text x="1592.6" y="1001" font-size="27" text-anchor="start" font-weight="normal" fill="#000" >2 s</text>
<line x1="291.9" y1="970" x2="291.9" y2="998" stroke="#231815" stroke-width="3.6"/>
<path d="M283.2,993.8 L291.9,997.4 L300.59999999999997,993.8 L291.9,1014.3 Z" fill="#231815"/>
<line x1="927.3" y1="970" x2="927.3" y2="998" stroke="#231815" stroke-width="3.6"/>
<path d="M918.5999999999999,993.8 L927.3,997.4 L936.0,993.8 L927.3,1014.3 Z" fill="#231815"/>
<line x1="1014.3" y1="970" x2="1014.3" y2="998" stroke="#231815" stroke-width="3.6"/>
<path d="M1005.5999999999999,993.8 L1014.3,997.4 L1023.0,993.8 L1014.3,1014.3 Z" fill="#231815"/>
<line x1="96.4" y1="1216.4" x2="96.4" y2="1733.4" stroke="#000" stroke-width="3.4"/>
<line x1="89.4" y1="1731.7" x2="799" y2="1731.7" stroke="#000" stroke-width="3.4"/>
<line x1="89.4" y1="1218.2" x2="96.4" y2="1218.2" stroke="#000" stroke-width="3"/>
<text x="86.10000000000001" y="1226.0" font-size="27" text-anchor="end" font-weight="normal" fill="#000" >0.5</text>
<line x1="89.4" y1="1320.9" x2="96.4" y2="1320.9" stroke="#000" stroke-width="3"/>
<text x="86.10000000000001" y="1328.7" font-size="27" text-anchor="end" font-weight="normal" fill="#000" >0.4</text>
<line x1="89.4" y1="1423.6000000000001" x2="96.4" y2="1423.6000000000001" stroke="#000" stroke-width="3"/>
<text x="86.10000000000001" y="1431.4" font-size="27" text-anchor="end" font-weight="normal" fill="#000" >0.3</text>
<line x1="89.4" y1="1526.3" x2="96.4" y2="1526.3" stroke="#000" stroke-width="3"/>
<text x="86.10000000000001" y="1534.1" font-size="27" text-anchor="end" font-weight="normal" fill="#000" >0.2</text>
<line x1="89.4" y1="1629.0" x2="96.4" y2="1629.0" stroke="#000" stroke-width="3"/>
<text x="86.10000000000001" y="1636.8" font-size="27" text-anchor="end" font-weight="normal" fill="#000" >0.1</text>
<line x1="89.4" y1="1731.7" x2="96.4" y2="1731.7" stroke="#000" stroke-width="3"/>
<text x="86.10000000000001" y="1739.5" font-size="27" text-anchor="end" font-weight="normal" fill="#000" >0.0</text>
<rect x="263.4" y="1387.2" width="94.90000000000003" height="344.5" fill="#066cb5"/>
<line x1="310.85" y1="1387.2" x2="310.85" y2="1358" stroke="#066cb5" stroke-width="3.2"/>
<line x1="301.45000000000005" y1="1358" x2="320.25" y2="1358" stroke="#066cb5" stroke-width="3.2"/>
<text x="267.90000000000003" y="1763.1000000000001" font-size="27" text-anchor="start" font-weight="normal" fill="#000" >Moving</text>
<rect x="535.4" y="1663.6" width="94.70000000000005" height="68.10000000000014" fill="#00973c"/>
<line x1="582.75" y1="1663.6" x2="582.75" y2="1653.5" stroke="#00973c" stroke-width="3.2"/>
<line x1="573.35" y1="1653.5" x2="592.15" y2="1653.5" stroke="#00973c" stroke-width="3.2"/>
<text x="516.4000000000001" y="1763.1000000000001" font-size="27" text-anchor="start" font-weight="normal" fill="#000" >Quiescence</text>
<path d="M311,1231.8 L311,1222.4 L582.5,1222.4 L582.5,1471.4" fill="none" stroke="#000" stroke-width="3.4"/>
<text x="447.3" y="1217.6" font-size="26" text-anchor="middle" font-weight="normal" fill="#000" >***</text>
<text transform="translate(37.1,1468.6) rotate(-90)" font-size="27" text-anchor="middle">Frequency (Hz)</text>
<line x1="986.5" y1="1215.3" x2="986.5" y2="1733.4" stroke="#000" stroke-width="3.4"/>
<line x1="979.5" y1="1731.7" x2="1686.5" y2="1731.7" stroke="#000" stroke-width="3.4"/>
<line x1="979.5" y1="1216.3000000000002" x2="986.5" y2="1216.3000000000002" stroke="#000" stroke-width="3"/>
<text x="974.0" y="1225.1000000000001" font-size="27" text-anchor="end" font-weight="normal" fill="#000" >2.0</text>
<line x1="979.5" y1="1345.15" x2="986.5" y2="1345.15" stroke="#000" stroke-width="3"/>
<text x="974.0" y="1353.95" font-size="27" text-anchor="end" font-weight="normal" fill="#000" >1.5</text>
<line x1="979.5" y1="1474.0" x2="986.5" y2="1474.0" stroke="#000" stroke-width="3"/>
<text x="974.0" y="1482.8" font-size="27" text-anchor="end" font-weight="normal" fill="#000" >1.0</text>
<line x1="979.5" y1="1602.8500000000001" x2="986.5" y2="1602.8500000000001" stroke="#000" stroke-width="3"/>
<text x="974.0" y="1611.65" font-size="27" text-anchor="end" font-weight="normal" fill="#000" >0.5</text>
<line x1="979.5" y1="1731.7" x2="986.5" y2="1731.7" stroke="#000" stroke-width="3"/>
<text x="974.0" y="1740.5" font-size="27" text-anchor="end" font-weight="normal" fill="#000" >0.0</text>
<rect x="1154.2" y="1346.6" width="94.39999999999986" height="385.10000000000014" fill="#066cb5"/>
<line x1="1201.4" y1="1346.6" x2="1201.4" y2="1333" stroke="#066cb5" stroke-width="3.2"/>
<line x1="1192.0" y1="1333" x2="1210.8000000000002" y2="1333" stroke="#066cb5" stroke-width="3.2"/>
<text x="1156.1" y="1763.1000000000001" font-size="27" text-anchor="start" font-weight="normal" fill="#000" >Moving</text>
<rect x="1425.7" y="1671.3" width="94.79999999999995" height="60.40000000000009" fill="#00973c"/>
<line x1="1473.1" y1="1671.3" x2="1473.1" y2="1667" stroke="#00973c" stroke-width="3.2"/>
<line x1="1463.6999999999998" y1="1667" x2="1482.5" y2="1667" stroke="#00973c" stroke-width="3.2"/>
<text x="1408.3" y="1763.1000000000001" font-size="27" text-anchor="start" font-weight="normal" fill="#000" >Quiescence</text>
<path d="M1201.4,1217.5 L1201.4,1208.6 L1473.3,1208.6 L1473.3,1456.6" fill="none" stroke="#000" stroke-width="3.4"/>
<text x="1341" y="1205.6" font-size="26" text-anchor="middle" font-weight="normal" fill="#000" >***</text>
<text transform="translate(925.6,1476.4) rotate(-90)" font-size="27" text-anchor="middle">ΔF/F (%)</text>
<text x="96.0" y="1887.7" font-size="27" text-anchor="start" font-weight="normal" fill="#000" >GFP labeling</text>
<text x="422.4" y="1887.5" font-size="27" text-anchor="start" font-weight="normal" fill="#ff0000" >Body movement</text>
<polyline points="14.2,2060.4 15.5,2069.4 16.8,2060.4 18.0,2069.2 19.3,2056.4 21.9,2057.8 24.5,2069.6 27.1,2059.6 29.6,2047.7 32.2,2063.9 34.8,2053.3 37.4,2064.2 40.0,2054.5 42.5,2060.1 45.1,2065.1 47.7,2064.4 50.3,2056.7 52.8,2067.7 55.4,2070.0 58.0,2060.5 60.6,2048.5 63.2,2067.5 65.7,2054.5 68.3,2058.9 70.9,2070.0 73.5,2059.9 76.1,2069.2 78.6,2070.0 81.2,2057.9 83.8,2070.0 85.7,2070.0 87.7,2070.0 90.2,2018.1 92.8,2031.7 94.1,2063.4 95.4,2044.1 98.0,2062.9 100.5,2048.1 103.1,2063.6 105.7,2056.3 108.3,2065.1 110.9,2063.0 113.4,2069.6 116.0,2070.0 118.6,2058.3 121.2,2068.4 123.7,2059.1 126.3,2067.4 128.9,2060.4 130.8,2061.9 132.8,2061.8 134.7,2064.0 136.6,2065.0 138.6,2068.3 140.5,2065.1 143.1,2053.8 145.0,2038.7 146.9,2020.3 149.5,2050.0 152.1,2023.3 154.7,1981.0 156.7,1963.9 158.5,1975.8 159.8,2015.7 162.4,1980.4 165.0,2015.2 167.1,2022.7 168.9,2059.8 171.4,2063.4 172.7,2034.1 175.3,2046.9 177.9,2066.8 180.5,2069.4 183.0,2064.1 185.6,2070.0 187.5,2010.3 189.5,1957.0 192.1,1993.0 193.9,1969.2 195.9,2045.3 197.2,1996.8 199.8,2045.4 201.6,2018.9 203.7,2002.3 205.7,1956.2 207.5,2030.6 209.3,1993.2 211.4,1987.8 213.5,2022.7 215.3,1988.7 217.1,2032.8 219.1,1998.3 221.2,2047.9 223.3,2025.8 225.6,1979.8 227.4,2046.4 229.4,2004.1 231.5,1986.5 233.3,2052.3 235.1,2013.9 237.2,2029.1 239.8,2043.5 242.3,2017.8 244.9,2060.1 247.0,1995.4 248.8,2036.9 251.4,2059.0 253.9,2042.0 256.5,2027.2 259.1,2048.9 261.7,2033.2 264.2,2051.7 266.8,2059.3 269.4,2047.0 271.3,2041.6 273.3,2038.9 275.2,2040.9 277.1,2033.5 279.7,2063.4 282.3,2058.5 284.9,2040.2 287.4,2056.9 289.2,2017.4 291.8,2061.3 294.4,2049.0 297.0,2049.0 299.6,2047.5 302.1,2058.6 304.7,2054.4 306.4,2057.5 308.1,2062.1 309.9,2034.3 312.5,2044.5 315.0,2045.8 317.6,2053.5 320.2,2063.3 322.8,2044.1 325.3,2053.5 327.9,2037.9 330.5,2052.9 332.6,1986.6 334.6,2007.4 337.2,1925.7 339.3,1981.4 340.8,1949.4 342.9,2035.1 345.4,2035.2 348.0,1982.4 350.6,2027.9 353.2,2042.2 355.8,2061.3 358.3,2066.5 360.9,2067.8 363.5,2055.0 366.1,2067.2 368.7,2058.9 371.2,2065.0 373.8,2065.8 376.4,2066.5 379.0,2059.0 381.5,2069.3 383.5,2066.8 385.4,2065.4 387.3,2063.4 389.3,2059.5 391.2,2064.6 393.1,2064.9 395.1,2066.0 397.0,2063.2 398.9,2066.9 400.9,2067.6 402.8,2064.9 404.7,2063.4 406.7,2062.8 408.6,2065.9 410.0,2064.5 412.1,2065.4 414.3,2064.9 416.4,2065.7 418.6,2065.9 420.7,2065.9 422.9,2065.6 425.0,2064.2 427.2,2062.7 429.3,2065.5 431.5,2067.3 433.1,2063.9 434.7,2061.3 436.3,2060.5 437.9,2065.0 440.1,2067.9 442.2,2064.1 444.4,2062.5 446.5,2063.6 448.1,2061.8 449.8,2060.4 451.9,2070.0 454.0,2061.6 456.8,2057.7 459.4,2067.7 461.0,2067.4 462.6,2069.8 464.3,2066.6 465.9,2062.4 467.5,2062.7 469.1,2065.9 470.7,2065.1 472.3,2063.3 474.5,2059.4 477.0,2036.4 479.2,2047.3 482.0,2057.8 483.6,2063.6 485.2,2069.4 486.8,2066.8 488.4,2064.0 491.2,1988.8 493.8,2024.8 495.9,2049.1 498.1,2063.9 500.2,2060.9 501.9,2063.0 503.5,2068.4 505.6,2052.3 507.8,1992.8 509.3,1990.4 510.6,2023.6 512.1,1961.4 514.2,1989.7 516.4,2030.9 518.0,2035.6 519.6,2041.8 521.7,2049.9 523.9,2043.6 525.5,2054.3 527.1,2067.6 529.3,2060.2 530.9,2030.6 532.5,2003.2 535.1,2020.1 537.8,2041.1 540.0,2019.6 542.8,2015.6 544.9,2026.0 546.4,2060.9 548.6,2032.7 550.1,2027.9 551.8,1972.9 554.0,1964.0 556.1,1994.3 558.3,2041.6 560.4,2006.2 562.6,1991.3 564.3,2030.2 566.4,2010.6 568.6,1933.9 570.7,1951.0 572.4,1931.4 574.4,1998.4 576.0,2014.8 577.6,2034.8 579.2,2038.8 580.8,2043.0 583.0,2060.1 584.6,2059.6 586.2,2060.1 588.3,2053.6 590.5,2061.8 592.6,2036.4 594.4,2020.2 596.5,2049.1 598.7,2023.5 600.8,2048.2 603.4,2044.4 605.5,2049.8 607.2,1975.6 609.8,1990.5 612.0,2016.0 614.1,2053.6 616.3,2037.1 618.9,2029.7 620.1,2022.3 621.6,2045.4 623.8,1995.1 625.9,1960.7 628.1,2002.3 630.2,1960.6 632.4,2009.6 634.5,1903.3 636.7,1909.1 638.8,1953.3 641.0,1973.5 643.1,1933.5 645.3,1949.0 647.4,1863.3 649.6,1867.2 651.7,1966.0 653.9,1918.9 655.0,1958.1 657.1,1877.0 659.2,2005.8 661.8,1898.9 663.5,2007.2 665.7,1958.8 667.8,1938.1 670.0,1952.1 672.1,2037.2 674.3,2028.7 676.4,2037.1 678.6,2001.9 680.7,2026.5 682.9,1996.6 685.0,2015.5 687.2,1977.2 689.3,2025.7 692.1,1960.5 693.6,2008.5 695.8,1965.8 697.9,2020.4 700.1,1985.4 702.2,2022.9 704.4,1989.2 706.5,2027.5 709.1,2027.1 710.8,2024.9 713.4,1964.3 715.1,2010.4 716.7,2028.3 718.3,2047.4 720.5,2009.5 722.6,2035.4 724.8,2011.0 726.9,2040.0 728.5,2050.2 730.2,2058.5 732.3,2022.8 734.5,2011.0 736.6,2045.9 738.7,1990.8 740.4,1932.8 742.0,1872.4 744.1,1925.5 746.3,2003.1 747.9,1995.3 749.5,1986.5 751.6,2013.9 753.8,1962.4 755.4,1975.4 757.1,1935.0 758.6,2029.0 760.7,2054.0 762.9,2056.7 765.0,2029.1 767.2,2049.4 769.3,2020.3 771.5,2032.5 773.6,2035.7 775.8,1937.6 777.5,2017.6 779.7,1987.5 781.8,2016.2 783.9,1994.4 786.1,2036.4 788.2,2025.0 790.8,2026.8 793.0,2053.5 795.1,2040.4 797.3,2060.2 799.4,2034.3 801.6,2030.7 803.7,2050.1 806.3,2025.3 808.4,2048.3 810.6,2024.0 812.7,2042.0 815.5,2014.1 817.7,2039.6 820.3,1986.9 823.1,2036.7 825.2,2010.3 827.4,2035.4 829.9,2009.3 832.7,1888.1 835.5,1887.5 838.1,1947.1 840.2,2019.0 841.9,2036.7 843.5,2057.8 846.3,1984.7 848.4,1997.6 850.6,1962.3 852.7,1994.9 855.3,2008.8 857.4,1933.4 859.6,1862.7 861.7,1933.8 863.9,1967.0 866.0,2004.8 867.7,2022.9 869.9,1973.2 872.0,2029.3 874.2,1975.8 876.3,2027.2 878.5,1968.1 881.1,2043.3 883.2,2021.2 885.8,2004.3 888.6,1979.7 890.7,1941.0 892.9,1974.7 895.7,1989.8 898.3,2024.3 900.4,1980.7 903.0,2010.3 905.1,1995.1 907.9,2012.4 910.1,1897.7 911.7,1913.5 913.3,1928.6 914.4,1860.5 917.2,1900.0 919.7,1920.3 921.5,1959.9 923.6,2035.8 925.8,2030.1 927.5,2050.9 929.4,2065.1 931.1,2031.6 932.6,1961.3 934.4,1978.6 935.9,2032.5 938.7,2012.2 940.8,2027.0 943.0,2011.8 945.5,2003.4 947.7,2017.3 950.3,2001.1 952.0,1982.4 954.1,2007.0 956.3,1937.3 958.4,1941.4 960.6,1912.9 962.7,2028.3 964.9,2005.9 966.5,1945.2 968.1,1881.7 970.2,2013.1 972.4,1954.8 974.5,2011.4 976.7,2059.4 979.5,2036.2 981.6,2051.0 984.2,2034.5 986.4,2049.3 988.5,2027.5 991.1,2046.9 993.9,2027.2 996.0,2053.4 998.2,2022.3 1000.3,2055.9 1002.5,2007.1 1004.6,2039.4 1006.8,2050.7 1008.9,2025.2 1011.1,2023.4 1013.2,2058.9 1015.4,2043.3 1017.5,2053.0 1019.1,2041.0 1020.7,2030.3 1022.9,2066.7" fill="none" stroke="#ff0000" stroke-width="2.9" stroke-linejoin="round" stroke-linecap="round" />
<path d="M989,1975.3 L1054,1975.3 L1054,1895.4" fill="none" stroke="#000" stroke-width="3.2" stroke-linejoin="miter"/>
<text transform="translate(1082.5,1950.5) rotate(-90)" font-size="27">a.u.</text>
<text x="1002.9" y="2001.5" font-size="27" text-anchor="start" font-weight="normal" fill="#000" >2 s</text>
<text x="421.8" y="2224.2" font-size="27" text-anchor="start" font-weight="normal" fill="#7a6db6" >Fluorescence signal</text>
<line x1="15" y1="2316.7" x2="1023" y2="2316.7" stroke="#000" stroke-width="3.3" stroke-dasharray="10 10" stroke-dashoffset="-1"/>
<polyline points="15.2,2316.7 16.9,2314.2 18.6,2312.2 20.3,2311.7 21.9,2309.3 23.6,2309.4 25.3,2307.4 27.0,2310.1 28.7,2311.0 30.4,2312.7 32.1,2310.6 33.8,2309.7 35.4,2308.2 37.1,2309.1 38.8,2310.9 40.5,2311.4 42.2,2311.3 43.9,2311.7 45.6,2311.1 47.3,2311.5 49.0,2314.0 50.6,2314.0 52.3,2310.3 54.0,2307.7 55.7,2308.4 57.4,2309.5 59.1,2310.6 60.8,2313.6 62.5,2314.2 64.1,2315.4 65.8,2315.4 67.5,2316.2 69.2,2314.9 70.9,2314.7 72.6,2317.1 74.3,2315.7 76.0,2314.5 77.7,2314.1 79.3,2314.4 81.0,2312.4 82.7,2310.3 84.4,2311.5 86.1,2312.3 87.8,2313.5 89.5,2315.2 91.2,2314.7 92.8,2314.2 94.5,2313.2 96.2,2314.6 97.9,2315.6 99.6,2315.2 101.3,2315.0 103.0,2314.9 104.7,2314.4 106.3,2312.8 108.0,2312.2 109.7,2313.4 111.4,2313.2 113.1,2313.0 114.8,2313.4 116.5,2312.9 118.2,2312.5 119.9,2310.7 121.5,2312.4 123.2,2311.7 124.9,2310.4 126.6,2310.9 128.3,2310.4 130.0,2311.6 131.7,2313.7 133.4,2316.3 135.0,2314.6 136.7,2314.1 138.4,2313.8 140.1,2314.3 141.8,2316.4 143.5,2314.9 145.2,2311.2 146.9,2309.4 148.5,2312.3 150.2,2314.4 151.9,2315.8 153.6,2313.5 155.3,2315.2 157.0,2314.2 158.7,2315.4 160.4,2316.3 162.1,2315.8 163.7,2315.2 165.4,2315.0 167.1,2317.0 168.8,2315.8 170.5,2315.2 172.2,2314.6 173.9,2314.7 175.6,2317.3 177.2,2319.7 178.9,2321.1 180.6,2318.9 182.3,2320.1 184.0,2320.4 185.7,2320.9 187.4,2320.8 189.1,2320.6 190.7,2321.5 192.4,2320.8 194.1,2319.4 195.8,2318.1 197.5,2317.7 199.2,2318.1 200.9,2317.4 202.6,2317.1 204.3,2316.1 205.9,2315.5 207.6,2316.0 209.3,2317.0 211.0,2316.6 212.7,2319.1 214.4,2321.4 216.1,2325.1 217.8,2325.6 219.4,2326.2 221.1,2326.7 222.8,2322.2 224.5,2319.3 226.2,2316.8 227.9,2316.1 229.6,2316.9 231.3,2316.6 233.0,2315.7 234.6,2316.7 236.3,2316.5 238.0,2317.3 239.7,2317.3 241.4,2316.9 243.1,2314.5 244.8,2315.9 246.5,2316.9 248.1,2316.4 249.8,2316.2 251.5,2314.7 253.2,2313.4 254.9,2311.6 256.6,2309.8 258.3,2309.5 260.0,2310.7 261.6,2313.8 263.3,2314.8 265.0,2314.7 266.7,2315.8 268.4,2314.2 270.1,2313.2 271.8,2313.7 273.5,2313.9 275.2,2315.3 276.8,2315.5 278.5,2313.0 280.2,2312.0 281.9,2313.0 283.6,2312.5 285.3,2312.6 287.0,2316.7 288.7,2319.3 290.3,2321.9 292.0,2321.6 293.7,2318.4 295.4,2318.0 297.1,2316.0 298.8,2314.6 300.5,2313.9 302.2,2314.6 303.8,2313.4 305.5,2312.1 307.2,2312.0 308.9,2313.9 310.6,2315.4 312.3,2315.2 314.0,2318.3 315.7,2316.3 317.4,2314.4 319.0,2314.0 320.7,2312.6 322.4,2311.2 324.1,2308.9 325.8,2306.7 327.5,2305.1 329.2,2303.2 330.9,2302.7 332.5,2302.6 334.2,2303.1 335.9,2302.3 337.6,2302.5 339.3,2302.7 341.0,2302.8 342.7,2303.2 344.4,2303.7 346.0,2306.5 347.7,2310.7 349.4,2313.8 351.1,2315.8 352.8,2316.3 354.5,2316.1 356.2,2316.6 357.9,2315.4 359.6,2315.6 361.2,2315.7 362.9,2316.6 364.6,2314.8 366.3,2312.5 368.0,2309.9 369.7,2309.5 371.4,2308.5 373.1,2307.7 374.7,2306.0 376.4,2307.7 378.1,2308.1 379.8,2309.1 381.5,2308.5 383.2,2308.9 384.9,2307.5 386.6,2305.4 388.3,2306.1 389.9,2307.9 391.6,2309.6 393.3,2310.1 395.0,2309.6 396.7,2309.9 398.4,2309.9 400.1,2310.6 401.8,2311.0 403.4,2312.0 405.1,2311.6 406.8,2311.4 408.5,2312.2 410.2,2311.3 411.9,2311.7 413.6,2312.8 415.3,2315.1 416.9,2317.8 418.6,2316.7 420.3,2316.3 422.0,2318.2 423.7,2316.0 425.4,2314.6 427.1,2313.6 428.8,2313.1 430.5,2310.4 432.1,2308.4 433.8,2305.7 435.5,2303.8 437.2,2302.4 438.9,2300.4 440.6,2299.6 442.3,2299.6 444.0,2300.3 445.6,2300.0 447.3,2301.7 449.0,2303.3 450.7,2303.9 452.4,2306.5 454.1,2305.7 455.8,2305.7 457.5,2306.2 459.1,2307.8 460.8,2307.9 462.5,2307.8 464.2,2308.8 465.9,2310.0 467.6,2309.8 469.3,2309.9 471.0,2310.1 472.7,2309.8 474.3,2309.3 476.0,2307.5 477.7,2307.3 479.4,2306.9 481.1,2308.3 482.8,2312.6 484.5,2315.3 486.2,2315.6 487.8,2318.0 489.5,2317.8 491.2,2317.5 492.9,2316.8 494.6,2316.4 496.3,2315.9 498.0,2314.6 499.7,2312.2 501.4,2310.3 503.0,2308.4 504.7,2306.5 506.4,2306.6 508.1,2306.0 509.8,2305.8 511.5,2304.8 513.2,2304.0 514.9,2305.1 516.5,2305.8 518.2,2307.6 519.9,2307.2 521.6,2308.0 523.3,2308.4 525.0,2307.9 526.7,2309.4 528.4,2309.2 530.0,2307.4 531.7,2308.4 533.4,2308.9 535.1,2308.4 536.7,2310.2 538.4,2310.1 540.0,2309.4 541.7,2311.0 543.4,2311.5 545.1,2311.5 546.8,2311.4 548.4,2313.6 550.1,2314.3 551.8,2316.0 553.5,2317.1 555.2,2315.2 556.9,2313.7 558.6,2314.0 560.3,2313.3 561.9,2313.7 563.6,2313.6 565.3,2313.6 567.0,2314.5 568.7,2315.6 570.4,2314.9 572.1,2313.9 573.8,2312.5 575.4,2314.0 577.1,2314.3 578.8,2315.6 580.5,2317.2 582.2,2318.1 583.9,2318.0 585.6,2317.9 587.3,2318.6 589.0,2319.3 590.6,2318.4 592.3,2316.5 594.0,2317.6 595.7,2317.7 597.4,2320.3 599.1,2318.7 600.8,2318.6 602.5,2317.0 604.1,2316.1 605.8,2314.3 607.5,2312.2 609.2,2311.1 610.9,2311.7 612.6,2311.4 614.3,2311.0 616.0,2314.2 617.7,2315.3 619.3,2316.7 621.0,2316.9 622.7,2315.3 624.4,2313.3 626.1,2311.5 627.8,2310.4 629.5,2309.5 631.2,2308.2 632.8,2306.9 634.5,2307.9 636.2,2310.2 637.9,2313.3 639.6,2309.7 641.3,2305.9 643.0,2310.5 644.7,2313.8 646.3,2317.7 648.0,2316.5 649.7,2313.8 651.4,2312.6 653.1,2314.1 654.8,2315.9 656.5,2317.9 658.2,2314.8 659.9,2314.6 661.5,2313.1 663.2,2312.6 664.9,2312.6 666.6,2313.2 668.3,2312.4 670.0,2312.9 671.7,2311.4 673.4,2310.8 675.0,2310.5 676.7,2310.7 678.4,2310.8 680.1,2310.8 681.8,2311.3 683.5,2308.0 685.2,2307.0 686.9,2307.9 688.5,2308.3 690.2,2308.7 691.9,2309.2 693.6,2310.2 695.3,2312.1 697.0,2307.3 698.7,2303.1 700.4,2300.7 702.1,2301.3 703.7,2300.6 705.4,2300.5 707.1,2300.8 708.8,2302.2 710.5,2301.7 712.2,2302.5 713.9,2303.6 715.6,2309.5 717.2,2313.6 718.9,2310.3 720.6,2306.4 722.3,2307.7 724.0,2309.3 725.7,2313.1 727.4,2317.3 729.1,2315.9 730.7,2315.1 732.4,2314.5 734.1,2316.2 735.8,2317.8 737.5,2317.7 739.2,2316.7 740.9,2314.3 742.6,2313.6 744.3,2311.6 745.9,2310.1 747.6,2309.1 749.3,2308.5 751.0,2306.9 752.7,2306.4 754.4,2310.0 756.1,2313.4 757.8,2316.9 759.4,2316.3 761.1,2314.2 762.8,2313.3 764.5,2314.1 766.2,2313.6 767.9,2315.6 769.6,2316.1 771.3,2315.5 773.0,2315.3 774.6,2315.3 776.3,2315.2 778.0,2315.9 779.7,2315.6 781.4,2316.7 783.1,2317.2 784.8,2317.5 786.5,2318.4 788.1,2319.8 789.8,2320.6 791.5,2320.0 793.2,2318.8 794.9,2318.5 796.6,2318.7 798.3,2317.8 800.0,2316.0 801.6,2317.7 803.3,2316.7 805.0,2313.5 806.7,2310.2 808.4,2309.5 810.1,2313.4 811.8,2316.5 813.5,2318.5 815.2,2319.9 816.8,2319.6 818.5,2319.4 820.2,2320.0 821.9,2319.0 823.6,2317.7 825.3,2316.6 827.0,2313.6 828.7,2314.7 830.3,2313.2 832.0,2312.9 833.7,2311.3 835.4,2312.2 837.1,2312.7 838.8,2312.2 840.5,2314.0 842.2,2315.4 843.8,2315.3 845.5,2315.0 847.2,2316.2 848.9,2316.8 850.6,2318.1 852.3,2317.1 854.0,2317.2 855.7,2315.9 857.4,2314.4 859.0,2313.7 860.7,2310.7 862.4,2312.3 864.1,2313.5 865.8,2315.2 867.5,2316.7 869.2,2316.9 870.9,2317.4 872.5,2316.5 874.2,2314.6 875.9,2312.2 877.6,2310.0 879.3,2313.0 881.0,2315.5 882.7,2318.5 884.4,2318.9 886.0,2320.0 887.7,2319.9 889.4,2320.4 891.1,2323.2 892.8,2323.6 894.5,2324.3 896.2,2323.3 897.9,2320.7 899.6,2320.1 901.2,2319.1 902.9,2318.6 904.6,2318.5 906.3,2318.1 908.0,2317.9 909.7,2316.3 911.4,2316.2 913.1,2315.2 914.7,2315.8 916.4,2315.0 918.1,2313.5 919.8,2313.6 921.5,2312.6 923.2,2313.5 924.9,2312.8 926.6,2311.0 928.3,2311.4 929.9,2313.0 931.6,2313.2 933.3,2312.8 935.0,2313.7 936.7,2313.6 938.4,2314.1 940.1,2313.7 941.8,2313.0 943.4,2310.2 945.1,2308.6 946.8,2306.9 948.5,2307.3 950.2,2308.1 951.9,2307.6 953.6,2306.4 955.3,2304.3 956.9,2306.4 958.6,2308.1 960.3,2309.8 962.0,2309.0 963.7,2308.3 965.4,2306.6 967.1,2307.7 968.8,2308.0 970.5,2309.4 972.1,2308.5 973.8,2306.6 975.5,2307.1 977.2,2308.4 978.9,2311.0 980.6,2312.4 982.3,2314.6 984.0,2318.8 985.6,2320.8 987.3,2318.2 989.0,2317.5 990.7,2315.3 992.4,2313.2 994.1,2312.1 995.8,2308.4 997.5,2309.2 999.1,2309.9 1000.8,2310.4 1002.5,2311.2 1004.2,2313.3 1005.9,2313.7 1007.6,2313.2 1009.3,2312.5 1011.0,2310.9 1012.7,2311.0 1014.3,2310.5 1016.0,2310.4 1017.7,2309.5 1019.4,2309.0 1021.1,2306.8 1022.8,2306.9 1024.5,2307.6" fill="none" stroke="#7a6db6" stroke-width="2.9" stroke-linejoin="round" stroke-linecap="round" />
<path d="M989,2265.1 L1054.2,2265.1 L1054.2,2172.1" fill="none" stroke="#000" stroke-width="3.2" stroke-linejoin="miter"/>
<text transform="translate(1083,2268) rotate(-90)" font-size="27">1% ΔF/F</text>
<text x="1002.9" y="2293.3" font-size="27" text-anchor="start" font-weight="normal" fill="#000" >2 s</text>
<rect x="1299.9" y="2228.7" width="31.599999999999955" height="45.0" fill="#066cb5"/>
<rect x="1331.2" y="2049.6" width="52.399999999999906" height="224.0999999999999" fill="#066cb5"/>
<rect x="1383.3" y="1952.3" width="51.50000000000004" height="321.39999999999986" fill="#066cb5"/>
<rect x="1434.5" y="2094" width="51.8" height="179.69999999999982" fill="#066cb5"/>
<rect x="1486" y="2251.7" width="51.899999999999906" height="22.0" fill="#066cb5"/>
<rect x="1537.6" y="2259" width="51.900000000000134" height="14.699999999999818" fill="#066cb5"/>
<rect x="1589.2" y="2270.4" width="27.500000000000046" height="3.299999999999727" fill="#066cb5"/>
<polyline points="1301.1,2221.0 1302.1,2218.9 1303.2,2216.8 1304.3,2214.7 1305.3,2212.5 1306.4,2210.2 1307.5,2207.9 1308.5,2205.5 1309.6,2203.0 1310.7,2200.5 1311.7,2198.0 1312.8,2195.3 1313.9,2192.7 1314.9,2189.9 1316.0,2187.1 1317.1,2184.3 1318.1,2181.4 1319.2,2178.4 1320.3,2175.4 1321.3,2172.3 1322.4,2169.2 1323.5,2166.0 1324.5,2162.8 1325.6,2159.5 1326.7,2156.1 1327.7,2152.8 1328.8,2149.3 1329.9,2145.8 1330.9,2142.3 1332.0,2138.7 1333.1,2135.1 1334.1,2131.5 1335.2,2127.8 1336.3,2124.1 1337.3,2120.3 1338.4,2116.5 1339.5,2112.7 1340.6,2108.9 1341.6,2105.0 1342.7,2101.1 1343.8,2097.2 1344.8,2093.3 1345.9,2089.3 1347.0,2085.4 1348.0,2081.4 1349.1,2077.5 1350.2,2073.5 1351.2,2069.5 1352.3,2065.6 1353.4,2061.6 1354.4,2057.7 1355.5,2053.8 1356.6,2049.9 1357.6,2046.0 1358.7,2042.1 1359.8,2038.3 1360.8,2034.5 1361.9,2030.7 1363.0,2027.0 1364.0,2023.3 1365.1,2019.7 1366.2,2016.1 1367.2,2012.6 1368.3,2009.1 1369.4,2005.7 1370.4,2002.4 1371.5,1999.1 1372.6,1995.9 1373.6,1992.8 1374.7,1989.7 1375.8,1986.7 1376.8,1983.9 1377.9,1981.1 1379.0,1978.3 1380.0,1975.7 1381.1,1973.2 1382.2,1970.8 1383.2,1968.5 1384.3,1966.3 1385.4,1964.2 1386.4,1962.2 1387.5,1960.3 1388.6,1958.6 1389.6,1956.9 1390.7,1955.4 1391.8,1954.0 1392.8,1952.7 1393.9,1951.6 1395.0,1950.5 1396.0,1949.6 1397.1,1948.9 1398.2,1948.2 1399.2,1947.7 1400.3,1947.3 1401.4,1947.0 1402.4,1946.9 1403.5,1946.9 1404.6,1947.0 1405.6,1947.3 1406.7,1947.7 1407.8,1948.2 1408.8,1948.9 1409.9,1949.6 1411.0,1950.5 1412.0,1951.6 1413.1,1952.7 1414.2,1954.0 1415.2,1955.4 1416.3,1956.9 1417.4,1958.6 1418.4,1960.3 1419.5,1962.2 1420.6,1964.2 1421.6,1966.3 1422.7,1968.5 1423.8,1970.8 1424.8,1973.2 1425.9,1975.7 1427.0,1978.3 1428.0,1981.1 1429.1,1983.9 1430.2,1986.7 1431.2,1989.7 1432.3,1992.8 1433.4,1995.9 1434.4,1999.1 1435.5,2002.4 1436.6,2005.7 1437.6,2009.1 1438.7,2012.6 1439.8,2016.1 1440.8,2019.7 1441.9,2023.3 1443.0,2027.0 1444.0,2030.7 1445.1,2034.5 1446.2,2038.3 1447.3,2042.1 1448.3,2046.0 1449.4,2049.9 1450.5,2053.8 1451.5,2057.7 1452.6,2061.6 1453.7,2065.6 1454.7,2069.5 1455.8,2073.5 1456.9,2077.5 1457.9,2081.4 1459.0,2085.4 1460.1,2089.3 1461.1,2093.3 1462.2,2097.2 1463.3,2101.1 1464.3,2105.0 1465.4,2108.9 1466.5,2112.7 1467.5,2116.5 1468.6,2120.3 1469.7,2124.1 1470.7,2127.8 1471.8,2131.5 1472.9,2135.1 1473.9,2138.7 1475.0,2142.3 1476.1,2145.8 1477.1,2149.3 1478.2,2152.8 1479.3,2156.1 1480.3,2159.5 1481.4,2162.8 1482.5,2166.0 1483.5,2169.2 1484.6,2172.3 1485.7,2175.4 1486.7,2178.4 1487.8,2181.4 1488.9,2184.3 1489.9,2187.1 1491.0,2189.9 1492.1,2192.7 1493.1,2195.3 1494.2,2198.0 1495.3,2200.5 1496.3,2203.0 1497.4,2205.5 1498.5,2207.9 1499.5,2210.2 1500.6,2212.5 1501.7,2214.7 1502.7,2216.8 1503.8,2218.9 1504.9,2221.0 1505.9,2222.9 1507.0,2224.9 1508.1,2226.8 1509.1,2228.6 1510.2,2230.3 1511.3,2232.1 1512.3,2233.7 1513.4,2235.3 1514.5,2236.9 1515.5,2238.4 1516.6,2239.9 1517.7,2241.3 1518.7,2242.7 1519.8,2244.0 1520.9,2245.3 1521.9,2246.5 1523.0,2247.7 1524.1,2248.8 1525.1,2250.0 1526.2,2251.0 1527.3,2252.1 1528.3,2253.0 1529.4,2254.0 1530.5,2254.9 1531.5,2255.8 1532.6,2256.6 1533.7,2257.4 1534.7,2258.2 1535.8,2259.0 1536.9,2259.7 1537.9,2260.4 1539.0,2261.0 1540.1,2261.7 1541.1,2262.3 1542.2,2262.9 1543.3,2263.4 1544.3,2263.9 1545.4,2264.4 1546.5,2264.9 1547.5,2265.4 1548.6,2265.8 1549.7,2266.3 1550.7,2266.7 1551.8,2267.0 1552.9,2267.4 1554.0,2267.7 1555.0,2268.1 1556.1,2268.4 1557.2,2268.7 1558.2,2269.0 1559.3,2269.2 1560.4,2269.5 1561.4,2269.7 1562.5,2270.0 1563.6,2270.2 1564.6,2270.4 1565.7,2270.6 1566.8,2270.8 1567.8,2270.9 1568.9,2271.1 1570.0,2271.3 1571.0,2271.4 1572.1,2271.6 1573.2,2271.7 1574.2,2271.8 1575.3,2271.9 1576.4,2272.0 1577.4,2272.1 1578.5,2272.2 1579.6,2272.3 1580.6,2272.4 1581.7,2272.5 1582.8,2272.6 1583.8,2272.7 1584.9,2272.7 1586.0,2272.8 1587.0,2272.8 1588.1,2272.9 1589.2,2273.0 1590.2,2273.0 1591.3,2273.1 1592.4,2273.1 1593.4,2273.1 1594.5,2273.2 1595.6,2273.2 1596.6,2273.3 1597.7,2273.3 1598.8,2273.3 1599.8,2273.3 1600.9,2273.4 1602.0,2273.4 1603.0,2273.4 1604.1,2273.4 1605.2,2273.5 1606.2,2273.5 1607.3,2273.5 1608.4,2273.5 1609.4,2273.5 1610.5,2273.5 1611.6,2273.5 1612.6,2273.6 1613.7,2273.6 1614.8,2273.6 1615.8,2273.6" fill="none" stroke="#0a70bf" stroke-width="5.6" stroke-linejoin="round" stroke-linecap="round" />
<rect x="1245.9" y="2199.3" width="10.7" height="74.39999999999964" fill="#7a6db6"/>
<rect x="1256.4" y="2025.4" width="14.799999999999908" height="248.29999999999973" fill="#7a6db6"/>
<rect x="1271" y="1993.3" width="14.900000000000045" height="280.39999999999986" fill="#7a6db6"/>
<rect x="1285.7" y="2125.2" width="14.400000000000045" height="148.5" fill="#7a6db6"/>
<rect x="1299.9" y="2242.6" width="15.299999999999908" height="31.09999999999991" fill="#7a6db6"/>
<rect x="1315" y="2268" width="14.900000000000045" height="5.699999999999818" fill="#7a6db6"/>
<line x1="1256.4" y1="2040" x2="1256.4" y2="2273.7" stroke="#8a80c0" stroke-width="0.6"/>
<line x1="1271" y1="2040" x2="1271" y2="2273.7" stroke="#8a80c0" stroke-width="0.6"/>
<polyline points="1243.1,2199.7 1243.7,2196.0 1244.2,2192.2 1244.7,2188.3 1245.3,2184.2 1245.8,2180.1 1246.3,2175.8 1246.9,2171.5 1247.4,2167.0 1247.9,2162.5 1248.5,2157.8 1249.0,2153.1 1249.5,2148.2 1250.1,2143.3 1250.6,2138.3 1251.1,2133.3 1251.7,2128.1 1252.2,2122.9 1252.7,2117.7 1253.3,2112.4 1253.8,2107.1 1254.3,2101.7 1254.9,2096.3 1255.4,2090.9 1255.9,2085.5 1256.5,2080.1 1257.0,2074.7 1257.5,2069.3 1258.1,2064.0 1258.6,2058.7 1259.1,2053.5 1259.7,2048.3 1260.2,2043.2 1260.7,2038.1 1261.3,2033.2 1261.8,2028.4 1262.3,2023.7 1262.9,2019.1 1263.4,2014.7 1263.9,2010.3 1264.5,2006.2 1265.0,2002.2 1265.5,1998.4 1266.1,1994.8 1266.6,1991.3 1267.1,1988.1 1267.7,1985.1 1268.2,1982.2 1268.7,1979.6 1269.3,1977.3 1269.8,1975.1 1270.3,1973.2 1270.9,1971.6 1271.4,1970.2 1271.9,1969.0 1272.5,1968.1 1273.0,1967.5 1273.5,1967.1 1274.1,1967.0 1274.6,1967.1 1275.1,1967.5 1275.7,1968.1 1276.2,1969.0 1276.7,1970.2 1277.3,1971.6 1277.8,1973.2 1278.3,1975.1 1278.9,1977.3 1279.4,1979.6 1279.9,1982.2 1280.5,1985.1 1281.0,1988.1 1281.5,1991.3 1282.1,1994.8 1282.6,1998.4 1283.1,2002.2 1283.7,2006.2 1284.2,2010.3 1284.7,2014.7 1285.3,2019.1 1285.8,2023.7 1286.3,2028.4 1286.9,2033.2 1287.4,2038.1 1287.9,2043.2 1288.5,2048.3 1289.0,2053.5 1289.5,2058.7 1290.1,2064.0 1290.6,2069.3 1291.1,2074.7 1291.7,2080.1 1292.2,2085.5 1292.7,2090.9 1293.3,2096.3 1293.8,2101.7 1294.3,2107.1 1294.9,2112.4 1295.4,2117.7 1295.9,2122.9 1296.5,2128.1 1297.0,2133.3 1297.6,2138.3 1298.1,2143.3 1298.6,2148.2 1299.2,2153.1 1299.7,2157.8 1300.2,2162.5 1300.8,2167.0 1301.3,2171.5 1301.8,2175.8 1302.4,2180.1 1302.9,2184.2 1303.4,2188.3 1304.0,2192.2 1304.5,2196.0 1305.0,2199.7 1305.6,2203.2 1306.1,2206.7 1306.6,2210.0 1307.2,2213.2 1307.7,2216.4 1308.2,2219.4 1308.8,2222.2 1309.3,2225.0 1309.8,2227.7 1310.4,2230.2 1310.9,2232.7 1311.4,2235.0 1312.0,2237.2 1312.5,2239.4 1313.0,2241.4 1313.6,2243.4 1314.1,2245.2 1314.6,2247.0 1315.2,2248.7 1315.7,2250.2 1316.2,2251.7 1316.8,2253.2 1317.3,2254.5 1317.8,2255.8 1318.4,2257.0 1318.9,2258.1 1319.4,2259.2 1320.0,2260.2 1320.5,2261.2 1321.0,2262.1 1321.6,2262.9 1322.1,2263.7 1322.6,2264.4 1323.2,2265.1 1323.7,2265.8 1324.2,2266.4 1324.8,2266.9 1325.3,2267.5 1325.8,2267.9 1326.4,2268.4 1326.9,2268.8 1327.4,2269.2 1328.0,2269.6 1328.5,2269.9 1329.0,2270.2" fill="none" stroke="#7a6db6" stroke-width="5.4" stroke-linejoin="round" stroke-linecap="round" />
<rect x="1225" y="2180" width="17.5" height="100" fill="#fff"/>
<line x1="1244.2" y1="1869.7" x2="1244.2" y2="2275.3999999999996" stroke="#000" stroke-width="3.4"/>
<line x1="1237.7" y1="2273.7" x2="1617.5" y2="2273.7" stroke="#000" stroke-width="3.4"/>
<line x1="1237.7" y1="2273.7" x2="1244.2" y2="2273.7" stroke="#000" stroke-width="3"/>
<text x="1229.7" y="2281.0" font-size="27" text-anchor="end" font-weight="normal" fill="#000" >0</text>
<line x1="1237.7" y1="2193.3999999999996" x2="1244.2" y2="2193.3999999999996" stroke="#000" stroke-width="3"/>
<text x="1229.7" y="2200.7" font-size="27" text-anchor="end" font-weight="normal" fill="#000" >10</text>
<line x1="1237.7" y1="2113.1" x2="1244.2" y2="2113.1" stroke="#000" stroke-width="3"/>
<text x="1229.7" y="2120.4" font-size="27" text-anchor="end" font-weight="normal" fill="#000" >20</text>
<line x1="1237.7" y1="2032.7999999999997" x2="1244.2" y2="2032.7999999999997" stroke="#000" stroke-width="3"/>
<text x="1229.7" y="2040.0999999999997" font-size="27" text-anchor="end" font-weight="normal" fill="#000" >30</text>
<line x1="1237.7" y1="1952.4999999999998" x2="1244.2" y2="1952.4999999999998" stroke="#000" stroke-width="3"/>
<text x="1229.7" y="1959.7999999999997" font-size="27" text-anchor="end" font-weight="normal" fill="#000" >40</text>
<line x1="1237.7" y1="1872.1999999999998" x2="1244.2" y2="1872.1999999999998" stroke="#000" stroke-width="3"/>
<text x="1229.7" y="1879.4999999999998" font-size="27" text-anchor="end" font-weight="normal" fill="#000" >50</text>
<line x1="1244.2" y1="2273.7" x2="1244.2" y2="2280.0" stroke="#000" stroke-width="3.4"/>
<text x="1244.2" y="2308.3" font-size="27" text-anchor="middle" font-weight="normal" fill="#000" >0.0</text>
<line x1="1297.55" y1="2273.7" x2="1297.55" y2="2280.0" stroke="#000" stroke-width="3.4"/>
<text x="1297.55" y="2308.3" font-size="27" text-anchor="middle" font-weight="normal" fill="#000" >0.5</text>
<line x1="1350.9" y1="2273.7" x2="1350.9" y2="2280.0" stroke="#000" stroke-width="3.4"/>
<text x="1350.9" y="2308.3" font-size="27" text-anchor="middle" font-weight="normal" fill="#000" >1.0</text>
<line x1="1404.25" y1="2273.7" x2="1404.25" y2="2280.0" stroke="#000" stroke-width="3.4"/>
<text x="1404.25" y="2308.3" font-size="27" text-anchor="middle" font-weight="normal" fill="#000" >1.5</text>
<line x1="1457.6000000000001" y1="2273.7" x2="1457.6000000000001" y2="2280.0" stroke="#000" stroke-width="3.4"/>
<text x="1457.6000000000001" y="2308.3" font-size="27" text-anchor="middle" font-weight="normal" fill="#000" >2.0</text>
<line x1="1510.95" y1="2273.7" x2="1510.95" y2="2280.0" stroke="#000" stroke-width="3.4"/>
<text x="1510.95" y="2308.3" font-size="27" text-anchor="middle" font-weight="normal" fill="#000" >2.5</text>
<line x1="1564.3000000000002" y1="2273.7" x2="1564.3000000000002" y2="2280.0" stroke="#000" stroke-width="3.4"/>
<text x="1564.3000000000002" y="2308.3" font-size="27" text-anchor="middle" font-weight="normal" fill="#000" >3.0</text>
<line x1="1617.65" y1="2273.7" x2="1617.65" y2="2280.0" stroke="#000" stroke-width="3.4"/>
<text x="1617.65" y="2308.3" font-size="27" text-anchor="middle" font-weight="normal" fill="#000" >3.5</text>
<text x="1430.5" y="2344.3" font-size="27" text-anchor="middle" font-weight="normal" fill="#000" >ΔF/F (%)</text>
<text transform="translate(1167.4,2073) rotate(-90)" font-size="27" text-anchor="middle">Number of trials (%)</text>
<line x1="1488.5" y1="1916.6" x2="1516.4" y2="1916.6" stroke="#7a6db6" stroke-width="3"/>
<line x1="1488.5" y1="1952.1" x2="1516.4" y2="1952.1" stroke="#0a70bf" stroke-width="3"/>
<text x="1527.2" y="1926" font-size="27" text-anchor="start" font-weight="normal" fill="#000" >GFP (M1)</text>
<text x="1527.2" y="1961.5" font-size="27" text-anchor="start" font-weight="normal" fill="#000" >OGB-1 (M1)</text>
</svg>
</body></html>
